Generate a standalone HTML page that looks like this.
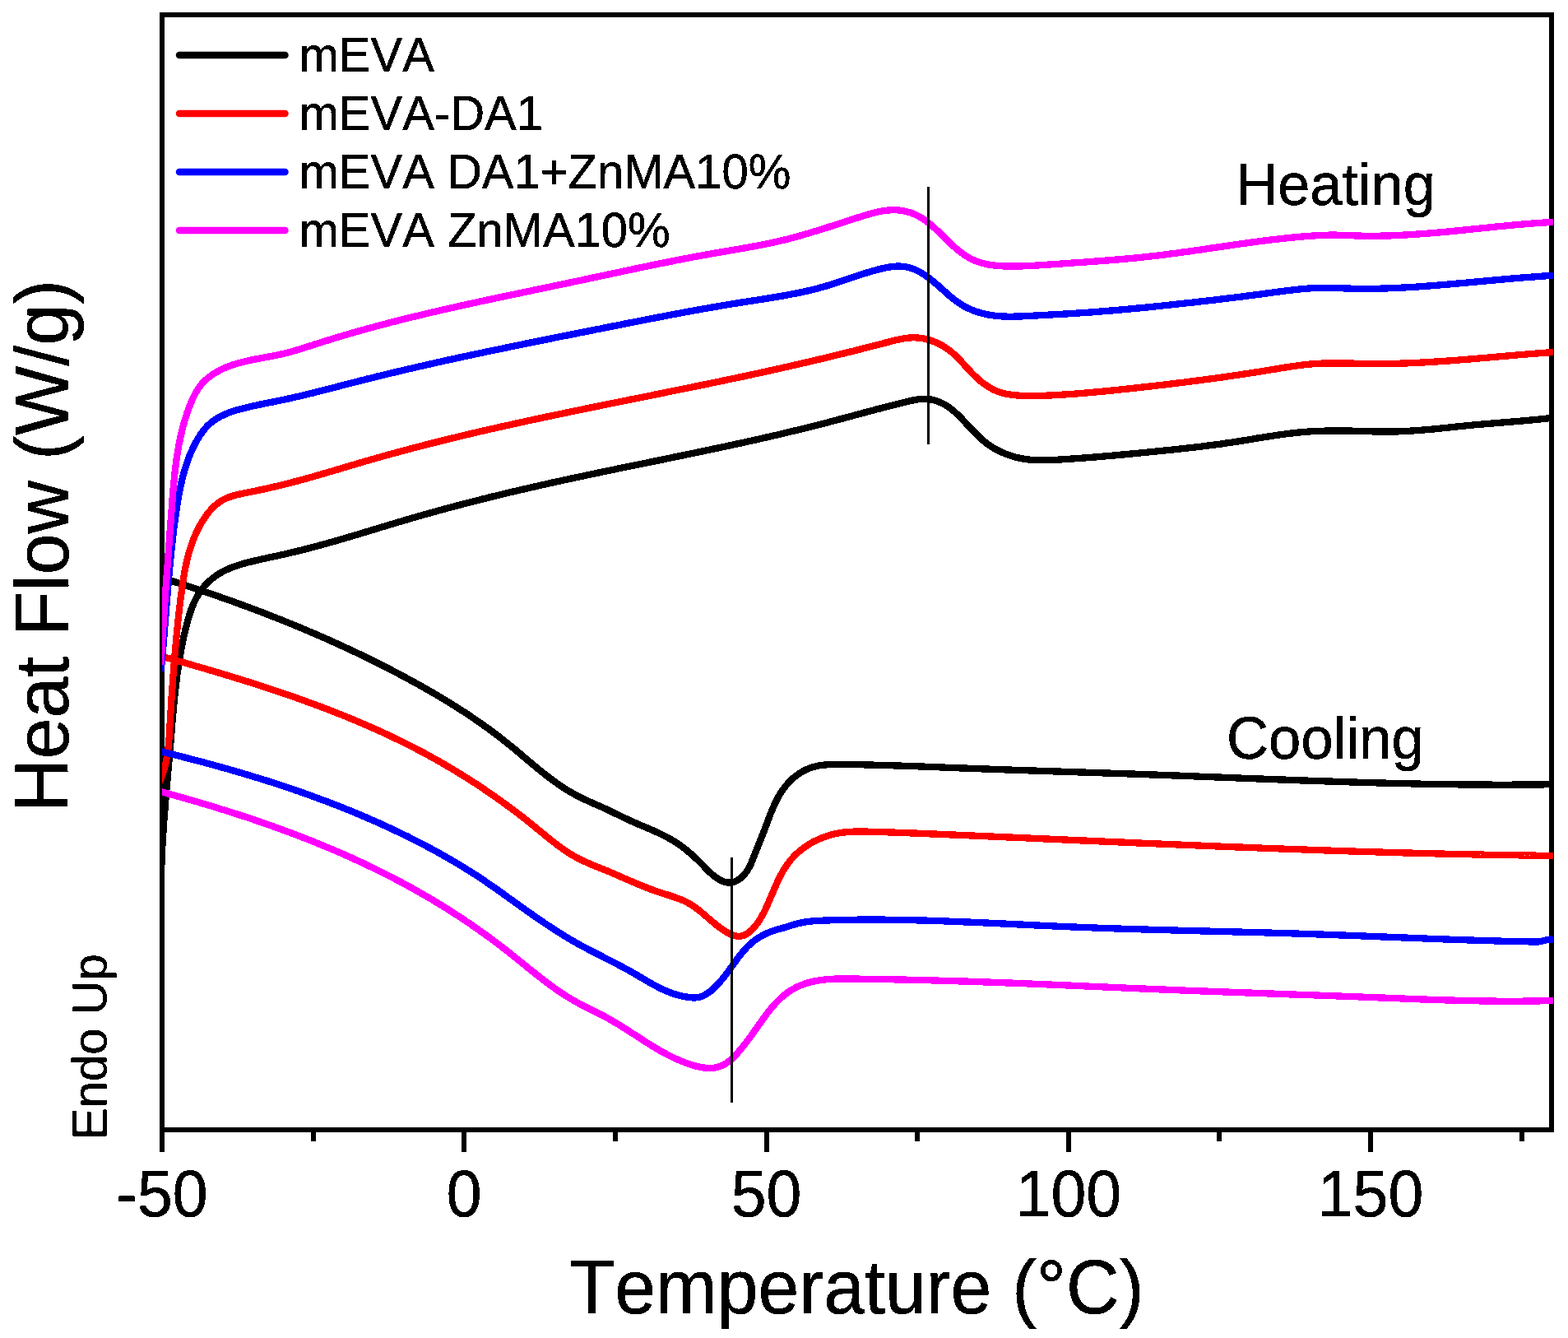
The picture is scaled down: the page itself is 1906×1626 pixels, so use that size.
<!DOCTYPE html>
<html><head><meta charset="utf-8"><title>DSC curves</title>
<style>
html,body{margin:0;padding:0;background:#fff;}
body{width:1906px;height:1626px;overflow:hidden;}
svg{display:block;}
text{font-family:"Liberation Sans",Arial,Helvetica,sans-serif;fill:#000;font-kerning:none;stroke:#000;stroke-width:0.5px;stroke-linejoin:miter;}
</style></head>
<body>
<svg width="1906" height="1626" viewBox="0 0 1906 1626">
<rect x="0" y="0" width="1906" height="1626" fill="#ffffff"/>
<defs><filter id="bin" x="-5%" y="-20%" width="110%" height="140%" color-interpolation-filters="sRGB"><feComponentTransfer><feFuncA type="discrete" tableValues="0 1"/></feComponentTransfer></filter><clipPath id="plot"><rect x="197" y="18" width="1691" height="1355"/></clipPath></defs>
<rect x="197" y="18" width="1689" height="1355" fill="none" stroke="#000" stroke-width="6"/>
<g stroke="#000" stroke-width="6" fill="none" shape-rendering="crispEdges">
<line x1="197.0" y1="1373" x2="197.0" y2="1400"/>
<line x1="564.2" y1="1373" x2="564.2" y2="1400"/>
<line x1="931.5" y1="1373" x2="931.5" y2="1400"/>
<line x1="1298.8" y1="1373" x2="1298.8" y2="1400"/>
<line x1="1666.0" y1="1373" x2="1666.0" y2="1400"/>
<line x1="380.6" y1="1373" x2="380.6" y2="1387"/>
<line x1="747.9" y1="1373" x2="747.9" y2="1387"/>
<line x1="1115.1" y1="1373" x2="1115.1" y2="1387"/>
<line x1="1482.4" y1="1373" x2="1482.4" y2="1387"/>
<line x1="1849.6" y1="1373" x2="1849.6" y2="1387"/>
</g>
<g clip-path="url(#plot)" fill="none" stroke-width="8.3" stroke-linejoin="round" stroke-linecap="butt" shape-rendering="crispEdges">
<path d="M196.1 1062.0 L196.2 1059.0 L196.3 1056.0 L196.3 1053.0 L196.4 1050.0 L196.5 1047.0 L196.7 1044.0 L196.8 1041.1 L196.9 1038.1 L197.1 1035.1 L197.2 1032.1 L197.3 1029.1 L197.5 1026.1 L197.7 1023.1 L197.8 1020.1 L198.0 1017.1 L198.2 1014.1 L198.4 1011.1 L198.6 1008.1 L198.8 1005.1 L199.0 1002.2 L199.2 999.2 L199.4 996.2 L199.7 993.2 L199.9 990.2 L200.1 987.2 L200.4 984.2 L200.6 981.2 L200.8 978.2 L201.1 975.2 L201.3 972.2 L201.6 969.2 L201.8 966.2 L202.1 963.2 L202.3 960.2 L202.6 957.2 L202.9 954.3 L203.1 951.3 L203.4 948.3 L203.7 945.3 L203.9 942.3 L204.2 939.3 L204.4 936.3 L204.7 933.3 L205.0 930.3 L205.2 927.3 L205.5 924.3 L205.7 921.3 L206.0 918.3 L206.3 915.4 L206.5 912.4 L206.8 909.4 L207.0 906.4 L207.3 903.4 L207.5 900.4 L207.8 897.4 L208.0 894.4 L208.3 891.4 L208.5 888.4 L208.7 885.5 L209.0 882.5 L209.2 879.5 L209.5 876.5 L209.8 873.5 L210.0 870.5 L210.3 867.5 L210.6 864.6 L210.8 861.6 L211.1 858.6 L211.4 855.6 L211.7 852.6 L212.0 849.7 L212.3 846.7 L212.6 843.7 L212.9 840.7 L213.2 837.7 L213.6 834.8 L213.9 831.8 L214.3 828.8 L214.7 825.9 L215.0 822.9 L215.4 819.9 L215.8 816.9 L216.3 814.0 L216.7 811.0 L217.1 808.0 L217.6 805.1 L218.1 802.1 L218.6 799.2 L219.1 796.2 L219.6 793.2 L220.1 790.3 L220.7 787.3 L221.2 784.4 L221.8 781.4 L222.4 778.5 L223.0 775.5 L223.7 772.6 L224.3 769.6 L225.0 766.7 L225.7 763.7 L226.5 760.8 L227.2 757.9 L228.0 754.9 L228.8 752.0 L229.7 749.1 L230.6 746.2 L231.5 743.4 L232.5 740.6 L233.6 737.8 L234.7 735.0 L235.9 732.3 L237.2 729.6 L238.5 727.0 L240.0 724.4 L241.5 721.8 L243.1 719.4 L244.8 717.0 L246.6 714.6 L248.5 712.3 L250.5 710.1 L252.6 708.0 L254.8 705.9 L257.1 703.9 L259.5 702.0 L261.9 700.2 L264.5 698.5 L267.0 696.8 L269.7 695.3 L272.3 693.9 L275.0 692.5 L277.8 691.3 L280.5 690.1 L283.3 689.0 L286.1 688.0 L289.0 687.1 L291.8 686.2 L294.7 685.3 L297.6 684.5 L300.5 683.7 L303.4 683.0 L306.3 682.3 L309.2 681.6 L312.1 680.9 L315.0 680.2 L318.0 679.6 L320.9 678.9 L323.8 678.3 L326.7 677.6 L329.7 677.0 L332.6 676.4 L335.5 675.8 L338.5 675.1 L341.4 674.5 L344.3 673.8 L347.2 673.2 L350.2 672.5 L353.1 671.8 L356.0 671.1 L358.9 670.4 L361.8 669.7 L364.7 669.0 L367.6 668.3 L370.5 667.5 L373.4 666.8 L376.3 666.0 L379.2 665.3 L382.1 664.5 L385.0 663.7 L387.9 662.9 L390.8 662.2 L393.7 661.4 L396.6 660.6 L399.5 659.7 L402.4 658.9 L405.3 658.1 L408.2 657.3 L411.0 656.5 L413.9 655.6 L416.8 654.8 L419.7 653.9 L422.6 653.1 L425.4 652.2 L428.3 651.4 L431.2 650.5 L434.1 649.7 L437.0 648.8 L439.8 647.9 L442.7 647.1 L445.6 646.2 L448.5 645.3 L451.3 644.5 L454.2 643.6 L457.1 642.7 L460.0 641.9 L462.8 641.0 L465.7 640.1 L468.6 639.3 L471.4 638.4 L474.3 637.5 L477.2 636.7 L480.1 635.8 L482.9 634.9 L485.8 634.1 L488.7 633.2 L491.6 632.4 L494.5 631.5 L497.3 630.7 L500.2 629.8 L503.1 629.0 L506.0 628.2 L508.9 627.3 L511.7 626.5 L514.6 625.7 L517.5 624.9 L520.4 624.1 L523.3 623.3 L526.2 622.5 L529.1 621.7 L531.9 620.9 L534.8 620.1 L537.7 619.3 L540.6 618.5 L543.5 617.7 L546.4 616.9 L549.3 616.2 L552.2 615.4 L555.1 614.6 L558.0 613.9 L560.9 613.1 L563.8 612.3 L566.7 611.6 L569.6 610.8 L572.5 610.1 L575.4 609.4 L578.3 608.6 L581.2 607.9 L584.1 607.1 L587.0 606.4 L589.9 605.7 L592.8 605.0 L595.7 604.2 L598.6 603.5 L601.5 602.8 L604.5 602.1 L607.4 601.4 L610.3 600.7 L613.2 600.0 L616.1 599.3 L619.0 598.6 L621.9 597.9 L624.9 597.2 L627.8 596.5 L630.7 595.8 L633.6 595.2 L636.5 594.5 L639.4 593.8 L642.4 593.1 L645.3 592.5 L648.2 591.8 L651.1 591.1 L654.1 590.5 L657.0 589.8 L659.9 589.1 L662.8 588.5 L665.8 587.8 L668.7 587.2 L671.6 586.5 L674.6 585.9 L677.5 585.2 L680.4 584.6 L683.3 583.9 L686.3 583.3 L689.2 582.7 L692.1 582.0 L695.1 581.4 L698.0 580.8 L700.9 580.1 L703.9 579.5 L706.8 578.9 L709.8 578.3 L712.7 577.6 L715.6 577.0 L718.6 576.4 L721.5 575.8 L724.5 575.2 L727.4 574.5 L730.3 573.9 L733.3 573.3 L736.2 572.7 L739.2 572.1 L742.1 571.5 L745.0 570.9 L748.0 570.3 L750.9 569.6 L753.9 569.0 L756.8 568.4 L759.8 567.8 L762.7 567.2 L765.6 566.6 L768.6 566.0 L771.5 565.4 L774.5 564.8 L777.4 564.2 L780.4 563.6 L783.3 563.0 L786.2 562.4 L789.2 561.8 L792.1 561.2 L795.1 560.6 L798.0 560.0 L801.0 559.4 L803.9 558.8 L806.9 558.2 L809.8 557.6 L812.7 557.0 L815.7 556.3 L818.6 555.7 L821.6 555.1 L824.5 554.5 L827.5 553.9 L830.4 553.3 L833.3 552.7 L836.3 552.1 L839.2 551.5 L842.2 550.9 L845.1 550.3 L848.1 549.6 L851.0 549.0 L853.9 548.4 L856.9 547.8 L859.8 547.2 L862.7 546.6 L865.7 545.9 L868.6 545.3 L871.6 544.7 L874.5 544.1 L877.4 543.4 L880.4 542.8 L883.3 542.2 L886.2 541.6 L889.2 540.9 L892.1 540.3 L895.0 539.6 L898.0 539.0 L900.9 538.4 L903.8 537.7 L906.8 537.1 L909.7 536.4 L912.6 535.8 L915.5 535.1 L918.5 534.5 L921.4 533.8 L924.3 533.2 L927.2 532.5 L930.2 531.8 L933.1 531.2 L936.0 530.5 L938.9 529.8 L941.8 529.1 L944.8 528.5 L947.7 527.8 L950.6 527.1 L953.5 526.4 L956.4 525.7 L959.3 525.0 L962.2 524.3 L965.2 523.6 L968.1 522.9 L971.0 522.2 L973.9 521.5 L976.8 520.8 L979.7 520.1 L982.6 519.4 L985.5 518.6 L988.4 517.9 L991.3 517.2 L994.2 516.4 L997.1 515.7 L1000.0 515.0 L1002.9 514.2 L1005.8 513.5 L1008.7 512.7 L1011.6 511.9 L1014.4 511.2 L1017.3 510.4 L1020.2 509.6 L1023.1 508.9 L1026.0 508.1 L1028.9 507.3 L1031.8 506.5 L1034.7 505.8 L1037.6 505.0 L1040.4 504.2 L1043.3 503.4 L1046.2 502.7 L1049.1 501.9 L1052.0 501.1 L1054.9 500.3 L1057.8 499.5 L1060.7 498.8 L1063.6 498.0 L1066.5 497.2 L1069.5 496.5 L1072.4 495.7 L1075.3 494.9 L1078.2 494.2 L1081.1 493.4 L1084.1 492.7 L1087.0 491.9 L1089.9 491.2 L1092.9 490.5 L1095.8 489.7 L1098.8 489.0 L1101.7 488.3 L1104.7 487.6 L1107.7 486.9 L1110.6 486.3 L1113.6 485.8 L1116.5 485.3 L1119.5 485.0 L1122.4 484.9 L1125.3 484.9 L1128.2 485.0 L1131.1 485.4 L1134.0 486.0 L1136.8 486.7 L1139.6 487.7 L1142.4 488.8 L1145.1 490.0 L1147.8 491.4 L1150.4 492.9 L1152.9 494.6 L1155.4 496.4 L1157.7 498.2 L1160.1 500.2 L1162.3 502.2 L1164.5 504.3 L1166.7 506.5 L1168.8 508.6 L1170.9 510.8 L1173.0 513.1 L1175.1 515.3 L1177.1 517.5 L1179.2 519.7 L1181.3 522.0 L1183.4 524.1 L1185.5 526.3 L1187.6 528.4 L1189.7 530.5 L1191.9 532.6 L1194.2 534.5 L1196.4 536.5 L1198.8 538.3 L1201.1 540.1 L1203.6 541.8 L1206.1 543.4 L1208.6 545.0 L1211.2 546.4 L1213.9 547.8 L1216.6 549.1 L1219.3 550.3 L1222.1 551.5 L1224.9 552.5 L1227.7 553.5 L1230.6 554.4 L1233.5 555.3 L1236.4 556.0 L1239.3 556.7 L1242.2 557.3 L1245.2 557.8 L1248.2 558.2 L1251.1 558.6 L1254.1 558.8 L1257.1 559.0 L1260.1 559.2 L1263.1 559.3 L1266.1 559.3 L1269.1 559.3 L1272.1 559.2 L1275.1 559.2 L1278.1 559.0 L1281.1 558.9 L1284.2 558.8 L1287.2 558.6 L1290.2 558.4 L1293.2 558.2 L1296.2 558.0 L1299.2 557.8 L1302.2 557.6 L1305.2 557.4 L1308.2 557.2 L1311.2 557.0 L1314.2 556.8 L1317.2 556.5 L1320.2 556.3 L1323.2 556.1 L1326.2 555.8 L1329.2 555.6 L1332.1 555.4 L1335.1 555.1 L1338.1 554.9 L1341.1 554.6 L1344.1 554.3 L1347.1 554.1 L1350.0 553.8 L1353.0 553.6 L1356.0 553.3 L1359.0 553.0 L1362.0 552.7 L1365.0 552.5 L1367.9 552.2 L1370.9 551.9 L1373.9 551.6 L1376.9 551.3 L1379.8 551.0 L1382.8 550.8 L1385.8 550.5 L1388.8 550.2 L1391.8 549.9 L1394.7 549.6 L1397.7 549.3 L1400.7 549.0 L1403.7 548.7 L1406.7 548.4 L1409.6 548.1 L1412.6 547.8 L1415.6 547.5 L1418.6 547.2 L1421.6 546.9 L1424.6 546.6 L1427.5 546.2 L1430.5 545.9 L1433.5 545.6 L1436.5 545.3 L1439.5 545.0 L1442.5 544.6 L1445.4 544.3 L1448.4 544.0 L1451.4 543.6 L1454.4 543.3 L1457.4 542.9 L1460.3 542.6 L1463.3 542.2 L1466.3 541.8 L1469.3 541.4 L1472.3 541.1 L1475.2 540.7 L1478.2 540.3 L1481.2 539.9 L1484.2 539.5 L1487.2 539.1 L1490.1 538.6 L1493.1 538.2 L1496.1 537.8 L1499.0 537.3 L1502.0 536.9 L1505.0 536.4 L1508.0 535.9 L1510.9 535.4 L1513.9 535.0 L1516.9 534.5 L1519.8 534.0 L1522.8 533.5 L1525.8 533.0 L1528.7 532.5 L1531.7 532.0 L1534.7 531.6 L1537.6 531.1 L1540.6 530.6 L1543.6 530.2 L1546.5 529.7 L1549.5 529.3 L1552.5 528.8 L1555.4 528.4 L1558.4 528.0 L1561.4 527.6 L1564.3 527.2 L1567.3 526.8 L1570.3 526.5 L1573.3 526.1 L1576.2 525.8 L1579.2 525.5 L1582.2 525.2 L1585.2 525.0 L1588.2 524.7 L1591.2 524.5 L1594.1 524.3 L1597.1 524.2 L1600.1 524.0 L1603.1 523.9 L1606.1 523.8 L1609.1 523.7 L1612.1 523.6 L1615.1 523.5 L1618.1 523.5 L1621.1 523.5 L1624.1 523.5 L1627.1 523.5 L1630.1 523.5 L1633.1 523.5 L1636.1 523.5 L1639.1 523.6 L1642.1 523.6 L1645.1 523.7 L1648.1 523.8 L1651.1 523.8 L1654.1 523.9 L1657.1 524.0 L1660.1 524.1 L1663.1 524.2 L1666.1 524.3 L1669.1 524.4 L1672.1 524.4 L1675.1 524.5 L1678.1 524.5 L1681.1 524.6 L1684.0 524.6 L1687.0 524.6 L1690.0 524.6 L1693.0 524.5 L1696.0 524.5 L1699.0 524.4 L1702.0 524.3 L1705.0 524.2 L1708.0 524.0 L1711.0 523.9 L1714.0 523.7 L1717.0 523.5 L1720.0 523.3 L1723.0 523.1 L1726.0 522.9 L1729.0 522.6 L1731.9 522.4 L1734.9 522.1 L1737.9 521.8 L1740.9 521.6 L1743.9 521.3 L1746.9 521.0 L1749.9 520.7 L1752.9 520.4 L1755.9 520.1 L1758.9 519.8 L1761.9 519.5 L1764.8 519.2 L1767.8 518.8 L1770.8 518.5 L1773.8 518.2 L1776.8 517.9 L1779.8 517.6 L1782.8 517.3 L1785.8 517.0 L1788.7 516.7 L1791.7 516.4 L1794.7 516.2 L1797.7 515.9 L1800.7 515.6 L1803.7 515.4 L1806.7 515.1 L1809.7 514.9 L1812.6 514.6 L1815.6 514.4 L1818.6 514.1 L1821.6 513.9 L1824.6 513.6 L1827.6 513.4 L1830.5 513.1 L1833.5 512.9 L1836.5 512.6 L1839.5 512.4 L1842.5 512.1 L1845.5 511.9 L1848.5 511.6 L1851.4 511.4 L1854.4 511.1 L1857.4 510.8 L1860.4 510.5 L1863.4 510.3 L1866.4 510.0 L1869.4 509.7 L1872.3 509.4 L1875.3 509.1 L1878.3 508.7 L1881.3 508.4 L1884.3 508.1 L1887.3 507.7 L1890.3 507.3 L1893.3 507.0 L1895.0 506.7" stroke="#000000"/>
<path d="M190.1 700.1 L193.0 701.0 L195.8 701.9 L198.7 702.8 L201.5 703.7 L204.4 704.6 L207.2 705.5 L210.1 706.4 L212.9 707.3 L215.8 708.2 L218.6 709.1 L221.5 710.0 L224.3 711.0 L227.2 711.9 L230.0 712.8 L232.9 713.8 L235.7 714.7 L238.6 715.7 L241.4 716.6 L244.2 717.6 L247.1 718.5 L249.9 719.5 L252.7 720.4 L255.6 721.4 L258.4 722.4 L261.3 723.4 L264.1 724.3 L266.9 725.3 L269.7 726.3 L272.6 727.3 L275.4 728.3 L278.2 729.3 L281.1 730.3 L283.9 731.3 L286.7 732.4 L289.5 733.4 L292.3 734.4 L295.2 735.4 L298.0 736.5 L300.8 737.5 L303.6 738.6 L306.4 739.6 L309.2 740.7 L312.1 741.7 L314.9 742.8 L317.7 743.9 L320.5 744.9 L323.3 746.0 L326.1 747.1 L328.9 748.2 L331.7 749.3 L334.5 750.4 L337.3 751.5 L340.1 752.6 L342.8 753.7 L345.6 754.8 L348.4 756.0 L351.2 757.1 L354.0 758.2 L356.8 759.4 L359.5 760.5 L362.3 761.6 L365.1 762.8 L367.9 764.0 L370.6 765.1 L373.4 766.3 L376.2 767.5 L378.9 768.6 L381.7 769.8 L384.5 771.0 L387.2 772.2 L390.0 773.4 L392.7 774.6 L395.5 775.8 L398.2 777.0 L401.0 778.3 L403.7 779.5 L406.4 780.7 L409.2 782.0 L411.9 783.2 L414.6 784.5 L417.4 785.7 L420.1 787.0 L422.8 788.2 L425.5 789.5 L428.2 790.8 L431.0 792.1 L433.7 793.3 L436.4 794.6 L439.1 795.9 L441.8 797.2 L444.5 798.5 L447.2 799.9 L449.9 801.2 L452.6 802.5 L455.3 803.8 L457.9 805.2 L460.6 806.5 L463.3 807.9 L466.0 809.2 L468.6 810.6 L471.3 812.0 L474.0 813.3 L476.6 814.7 L479.3 816.1 L481.9 817.5 L484.6 818.9 L487.2 820.3 L489.9 821.7 L492.5 823.1 L495.2 824.5 L497.8 826.0 L500.4 827.4 L503.1 828.8 L505.7 830.3 L508.3 831.7 L510.9 833.2 L513.5 834.7 L516.1 836.1 L518.7 837.6 L521.3 839.1 L523.9 840.6 L526.5 842.1 L529.1 843.6 L531.7 845.1 L534.3 846.7 L536.8 848.2 L539.4 849.7 L542.0 851.3 L544.5 852.8 L547.1 854.4 L549.6 856.0 L552.1 857.6 L554.7 859.2 L557.2 860.8 L559.7 862.4 L562.2 864.0 L564.7 865.6 L567.2 867.3 L569.7 868.9 L572.2 870.6 L574.7 872.3 L577.2 874.0 L579.6 875.6 L582.1 877.4 L584.6 879.1 L587.0 880.8 L589.4 882.5 L591.9 884.3 L594.3 886.0 L596.7 887.8 L599.1 889.6 L601.5 891.4 L603.9 893.2 L606.3 895.0 L608.7 896.8 L611.0 898.7 L613.4 900.5 L615.7 902.4 L618.1 904.3 L620.4 906.2 L622.7 908.1 L625.1 910.0 L627.4 911.9 L629.7 913.9 L632.0 915.8 L634.3 917.8 L636.6 919.7 L638.9 921.6 L641.2 923.6 L643.5 925.5 L645.8 927.5 L648.1 929.4 L650.4 931.3 L652.7 933.2 L655.1 935.1 L657.4 937.0 L659.7 938.9 L662.1 940.8 L664.5 942.6 L666.8 944.4 L669.2 946.2 L671.6 948.0 L674.0 949.8 L676.5 951.5 L678.9 953.3 L681.4 954.9 L683.9 956.6 L686.4 958.2 L688.9 959.8 L691.5 961.4 L694.1 962.9 L696.7 964.4 L699.3 965.8 L701.9 967.3 L704.6 968.6 L707.3 970.0 L710.0 971.3 L712.8 972.5 L715.5 973.8 L718.3 975.0 L721.1 976.3 L723.8 977.5 L726.6 978.7 L729.4 979.9 L732.1 981.1 L734.8 982.4 L737.6 983.6 L740.3 984.9 L743.0 986.2 L745.7 987.5 L748.3 988.8 L751.0 990.1 L753.7 991.4 L756.4 992.7 L759.1 994.0 L761.8 995.2 L764.5 996.5 L767.2 997.8 L769.9 999.0 L772.6 1000.2 L775.4 1001.4 L778.2 1002.6 L780.9 1003.8 L783.7 1004.9 L786.5 1006.1 L789.3 1007.3 L792.0 1008.5 L794.8 1009.7 L797.6 1011.0 L800.3 1012.2 L803.0 1013.5 L805.7 1014.8 L808.4 1016.1 L811.1 1017.5 L813.7 1019.0 L816.3 1020.4 L818.8 1022.0 L821.4 1023.6 L823.8 1025.2 L826.3 1026.9 L828.7 1028.6 L831.1 1030.4 L833.4 1032.3 L835.8 1034.2 L838.0 1036.1 L840.3 1038.0 L842.6 1040.0 L844.8 1042.1 L847.0 1044.1 L849.1 1046.2 L851.3 1048.4 L853.4 1050.5 L855.6 1052.7 L857.7 1054.9 L859.8 1057.0 L862.0 1059.2 L864.2 1061.3 L866.5 1063.3 L868.9 1065.2 L871.4 1067.0 L874.1 1068.7 L876.8 1070.2 L879.6 1071.3 L882.4 1072.2 L885.2 1072.6 L888.0 1072.6 L890.7 1072.2 L893.4 1071.3 L896.0 1070.0 L898.5 1068.4 L900.9 1066.6 L903.1 1064.5 L905.2 1062.2 L907.1 1059.7 L908.8 1057.2 L910.4 1054.5 L911.8 1051.8 L913.1 1049.0 L914.3 1046.2 L915.4 1043.4 L916.5 1040.5 L917.6 1037.7 L918.7 1034.9 L919.8 1032.1 L920.9 1029.4 L922.0 1026.6 L923.2 1023.9 L924.3 1021.1 L925.4 1018.4 L926.5 1015.6 L927.6 1012.8 L928.7 1010.0 L929.7 1007.2 L930.8 1004.4 L931.8 1001.6 L932.9 998.8 L933.9 995.9 L935.0 993.1 L936.1 990.3 L937.2 987.5 L938.4 984.7 L939.6 981.9 L940.8 979.2 L942.0 976.5 L943.4 973.8 L944.7 971.1 L946.1 968.5 L947.6 965.9 L949.2 963.4 L950.8 960.9 L952.5 958.5 L954.3 956.1 L956.2 953.8 L958.2 951.5 L960.3 949.4 L962.5 947.2 L964.7 945.2 L967.1 943.3 L969.6 941.4 L972.1 939.7 L974.7 938.1 L977.3 936.6 L980.0 935.3 L982.7 934.1 L985.5 933.0 L988.4 932.1 L991.2 931.4 L994.1 930.7 L997.0 930.2 L1000.0 929.8 L1002.9 929.5 L1005.9 929.3 L1008.9 929.2 L1011.9 929.1 L1014.9 929.0 L1017.9 929.0 L1020.9 929.0 L1023.9 929.0 L1026.9 929.1 L1029.9 929.1 L1033.0 929.1 L1036.0 929.2 L1039.0 929.2 L1042.0 929.2 L1045.0 929.3 L1048.0 929.3 L1051.0 929.4 L1054.0 929.5 L1057.0 929.5 L1060.0 929.6 L1063.0 929.7 L1066.0 929.7 L1069.0 929.8 L1072.0 929.9 L1075.0 930.0 L1078.0 930.1 L1081.0 930.2 L1084.0 930.3 L1087.0 930.4 L1090.0 930.4 L1093.0 930.5 L1096.0 930.7 L1099.0 930.8 L1102.0 930.9 L1105.0 931.0 L1108.0 931.1 L1111.0 931.2 L1114.0 931.3 L1117.0 931.4 L1120.0 931.5 L1123.0 931.6 L1126.0 931.8 L1129.0 931.9 L1132.0 932.0 L1135.0 932.1 L1138.0 932.2 L1141.0 932.3 L1144.0 932.5 L1147.0 932.6 L1150.0 932.7 L1152.9 932.8 L1155.9 932.9 L1158.9 933.1 L1161.9 933.2 L1164.9 933.3 L1167.9 933.4 L1170.9 933.5 L1173.9 933.6 L1176.9 933.7 L1179.9 933.8 L1182.9 934.0 L1185.9 934.1 L1188.9 934.2 L1191.9 934.3 L1194.9 934.4 L1197.9 934.5 L1200.9 934.6 L1203.9 934.7 L1206.9 934.8 L1209.9 934.9 L1212.9 935.0 L1215.9 935.1 L1218.9 935.2 L1221.9 935.4 L1224.9 935.5 L1227.9 935.6 L1230.8 935.7 L1233.8 935.8 L1236.8 935.9 L1239.8 936.0 L1242.8 936.1 L1245.8 936.2 L1248.8 936.3 L1251.8 936.4 L1254.8 936.5 L1257.8 936.6 L1260.8 936.7 L1263.8 936.8 L1266.8 936.9 L1269.8 937.0 L1272.8 937.1 L1275.8 937.2 L1278.8 937.3 L1281.8 937.4 L1284.8 937.5 L1287.8 937.6 L1290.8 937.7 L1293.8 937.8 L1296.8 937.9 L1299.8 938.0 L1302.8 938.1 L1305.8 938.2 L1308.8 938.3 L1311.8 938.4 L1314.8 938.5 L1317.8 938.6 L1320.8 938.7 L1323.8 938.8 L1326.8 938.9 L1329.8 939.0 L1332.8 939.1 L1335.8 939.2 L1338.8 939.3 L1341.8 939.4 L1344.8 939.5 L1347.8 939.6 L1350.8 939.7 L1353.8 939.8 L1356.8 939.9 L1359.8 940.0 L1362.8 940.1 L1365.8 940.2 L1368.8 940.3 L1371.8 940.4 L1374.8 940.5 L1377.8 940.6 L1380.8 940.7 L1383.8 940.9 L1386.8 941.0 L1389.8 941.1 L1392.8 941.2 L1395.8 941.3 L1398.8 941.4 L1401.8 941.5 L1404.8 941.6 L1407.8 941.7 L1410.8 941.8 L1413.8 941.9 L1416.8 942.1 L1419.8 942.2 L1422.8 942.3 L1425.8 942.4 L1428.8 942.5 L1431.8 942.6 L1434.8 942.7 L1437.8 942.9 L1440.8 943.0 L1443.8 943.1 L1446.8 943.2 L1449.8 943.3 L1452.8 943.4 L1455.8 943.5 L1458.8 943.7 L1461.8 943.8 L1464.8 943.9 L1467.8 944.0 L1470.8 944.1 L1473.8 944.2 L1476.8 944.4 L1479.8 944.5 L1482.8 944.6 L1485.8 944.7 L1488.8 944.8 L1491.8 944.9 L1494.8 945.1 L1497.8 945.2 L1500.7 945.3 L1503.7 945.4 L1506.7 945.5 L1509.7 945.7 L1512.7 945.8 L1515.7 945.9 L1518.7 946.0 L1521.7 946.1 L1524.7 946.2 L1527.7 946.4 L1530.7 946.5 L1533.7 946.6 L1536.7 946.7 L1539.7 946.8 L1542.7 946.9 L1545.7 947.0 L1548.7 947.2 L1551.7 947.3 L1554.7 947.4 L1557.7 947.5 L1560.7 947.6 L1563.7 947.7 L1566.7 947.8 L1569.7 947.9 L1572.7 948.1 L1575.7 948.2 L1578.7 948.3 L1581.7 948.4 L1584.7 948.5 L1587.7 948.6 L1590.7 948.7 L1593.7 948.8 L1596.7 948.9 L1599.7 949.0 L1602.7 949.1 L1605.7 949.2 L1608.7 949.3 L1611.7 949.4 L1614.7 949.5 L1617.7 949.6 L1620.7 949.7 L1623.7 949.8 L1626.7 949.9 L1629.7 950.0 L1632.7 950.1 L1635.7 950.2 L1638.7 950.3 L1641.7 950.4 L1644.7 950.5 L1647.7 950.6 L1650.7 950.7 L1653.6 950.8 L1656.6 950.9 L1659.6 951.0 L1662.6 951.0 L1665.6 951.1 L1668.6 951.2 L1671.6 951.3 L1674.6 951.4 L1677.6 951.5 L1680.6 951.5 L1683.6 951.6 L1686.6 951.7 L1689.6 951.8 L1692.6 951.9 L1695.6 951.9 L1698.6 952.0 L1701.6 952.1 L1704.6 952.1 L1707.6 952.2 L1710.6 952.3 L1713.6 952.3 L1716.6 952.4 L1719.6 952.5 L1722.6 952.5 L1725.6 952.6 L1728.6 952.7 L1731.6 952.7 L1734.6 952.8 L1737.6 952.8 L1740.6 952.9 L1743.6 952.9 L1746.6 953.0 L1749.6 953.0 L1752.6 953.1 L1755.6 953.1 L1758.6 953.2 L1761.6 953.2 L1764.6 953.2 L1767.6 953.3 L1770.6 953.3 L1773.6 953.4 L1776.6 953.4 L1779.6 953.4 L1782.6 953.4 L1785.6 953.5 L1788.6 953.5 L1791.6 953.5 L1794.6 953.5 L1797.6 953.6 L1800.6 953.6 L1803.6 953.6 L1806.6 953.6 L1809.6 953.6 L1812.6 953.6 L1815.6 953.7 L1818.6 953.7 L1821.6 953.7 L1824.6 953.7 L1827.6 953.7 L1830.6 953.7 L1833.6 953.7 L1836.6 953.7 L1839.6 953.6 L1842.6 953.6 L1845.6 953.6 L1848.6 953.6 L1851.6 953.6 L1854.6 953.6 L1857.6 953.5 L1860.6 953.5 L1863.6 953.5 L1866.6 953.5 L1869.6 953.4 L1872.6 953.4 L1875.6 953.4 L1878.6 953.3 L1881.6 953.3 L1884.6 953.3 L1887.6 953.2 L1890.6 953.2 L1893.6 953.1 L1895.0 953.1" stroke="#000000"/>
<path d="M192.4 953.1 L193.7 950.4 L195.0 947.7 L196.1 945.0 L197.2 942.2 L198.1 939.4 L199.0 936.6 L199.9 933.8 L200.6 930.9 L201.3 928.0 L201.9 925.1 L202.5 922.2 L203.0 919.3 L203.5 916.3 L203.9 913.4 L204.3 910.4 L204.6 907.4 L204.9 904.4 L205.2 901.4 L205.4 898.4 L205.7 895.4 L205.9 892.4 L206.1 889.4 L206.2 886.3 L206.4 883.3 L206.6 880.3 L206.8 877.3 L207.0 874.3 L207.1 871.2 L207.3 868.2 L207.5 865.2 L207.7 862.2 L207.9 859.2 L208.1 856.2 L208.3 853.2 L208.4 850.2 L208.6 847.2 L208.8 844.2 L209.0 841.2 L209.3 838.3 L209.5 835.3 L209.7 832.3 L209.9 829.3 L210.1 826.3 L210.3 823.3 L210.5 820.3 L210.8 817.4 L211.0 814.4 L211.2 811.4 L211.5 808.4 L211.7 805.4 L211.9 802.5 L212.2 799.5 L212.4 796.5 L212.7 793.5 L213.0 790.6 L213.2 787.6 L213.5 784.6 L213.8 781.6 L214.0 778.6 L214.3 775.7 L214.6 772.7 L214.9 769.7 L215.2 766.7 L215.5 763.8 L215.8 760.8 L216.1 757.8 L216.4 754.8 L216.7 751.8 L217.1 748.8 L217.4 745.9 L217.7 742.9 L218.1 739.9 L218.4 736.9 L218.8 733.9 L219.2 730.9 L219.5 727.9 L219.9 724.9 L220.3 721.9 L220.7 718.9 L221.1 715.9 L221.5 712.9 L221.9 709.9 L222.4 707.0 L222.8 704.0 L223.3 701.0 L223.8 698.0 L224.3 695.0 L224.9 692.1 L225.5 689.1 L226.1 686.2 L226.8 683.3 L227.4 680.3 L228.2 677.4 L228.9 674.5 L229.7 671.7 L230.6 668.8 L231.4 666.0 L232.4 663.1 L233.3 660.3 L234.4 657.5 L235.4 654.7 L236.6 652.0 L237.7 649.3 L239.0 646.5 L240.3 643.9 L241.6 641.2 L243.1 638.6 L244.5 635.9 L246.1 633.4 L247.7 630.8 L249.4 628.3 L251.2 625.8 L253.0 623.4 L254.9 621.1 L256.9 618.8 L259.0 616.7 L261.2 614.6 L263.4 612.7 L265.8 610.9 L268.2 609.2 L270.7 607.7 L273.3 606.3 L276.1 605.1 L278.9 604.0 L281.7 603.1 L284.6 602.2 L287.6 601.4 L290.6 600.7 L293.6 600.0 L296.6 599.4 L299.6 598.8 L302.6 598.2 L305.6 597.6 L308.6 597.0 L311.6 596.4 L314.6 595.7 L317.5 595.1 L320.5 594.5 L323.4 593.8 L326.3 593.2 L329.2 592.5 L332.1 591.8 L335.0 591.2 L337.9 590.5 L340.7 589.8 L343.6 589.1 L346.5 588.4 L349.3 587.6 L352.2 586.9 L355.1 586.2 L357.9 585.4 L360.8 584.7 L363.6 583.9 L366.5 583.2 L369.4 582.4 L372.2 581.6 L375.1 580.8 L378.0 580.0 L380.8 579.2 L383.7 578.4 L386.6 577.5 L389.5 576.7 L392.3 575.9 L395.2 575.0 L398.1 574.2 L401.0 573.3 L403.9 572.5 L406.8 571.6 L409.6 570.8 L412.5 569.9 L415.4 569.1 L418.3 568.2 L421.2 567.3 L424.1 566.5 L427.0 565.6 L429.9 564.8 L432.8 563.9 L435.7 563.1 L438.6 562.2 L441.4 561.4 L444.3 560.5 L447.2 559.7 L450.1 558.8 L453.0 558.0 L455.9 557.2 L458.8 556.4 L461.7 555.5 L464.6 554.7 L467.5 553.9 L470.4 553.1 L473.3 552.3 L476.2 551.5 L479.1 550.7 L482.0 549.9 L484.9 549.1 L487.8 548.3 L490.7 547.6 L493.6 546.8 L496.5 546.0 L499.4 545.3 L502.3 544.5 L505.2 543.7 L508.1 543.0 L511.0 542.2 L513.9 541.5 L516.8 540.7 L519.7 540.0 L522.6 539.2 L525.5 538.5 L528.4 537.8 L531.3 537.0 L534.3 536.3 L537.2 535.6 L540.1 534.9 L543.0 534.1 L545.9 533.4 L548.8 532.7 L551.7 532.0 L554.6 531.3 L557.5 530.6 L560.4 529.9 L563.4 529.2 L566.3 528.5 L569.2 527.8 L572.1 527.1 L575.0 526.4 L577.9 525.8 L580.8 525.1 L583.7 524.4 L586.7 523.7 L589.6 523.1 L592.5 522.4 L595.4 521.7 L598.3 521.1 L601.3 520.4 L604.2 519.7 L607.1 519.1 L610.0 518.4 L612.9 517.8 L615.9 517.1 L618.8 516.5 L621.7 515.8 L624.6 515.2 L627.6 514.5 L630.5 513.9 L633.4 513.2 L636.4 512.6 L639.3 512.0 L642.2 511.3 L645.1 510.7 L648.1 510.1 L651.0 509.4 L653.9 508.8 L656.9 508.2 L659.8 507.5 L662.7 506.9 L665.7 506.3 L668.6 505.7 L671.5 505.1 L674.5 504.4 L677.4 503.8 L680.4 503.2 L683.3 502.6 L686.2 502.0 L689.2 501.4 L692.1 500.8 L695.1 500.1 L698.0 499.5 L700.9 498.9 L703.9 498.3 L706.8 497.7 L709.8 497.1 L712.7 496.5 L715.6 495.9 L718.6 495.3 L721.5 494.7 L724.5 494.1 L727.4 493.5 L730.4 492.9 L733.3 492.3 L736.3 491.7 L739.2 491.1 L742.1 490.5 L745.1 489.9 L748.0 489.3 L751.0 488.7 L753.9 488.1 L756.9 487.5 L759.8 486.9 L762.8 486.3 L765.7 485.7 L768.7 485.1 L771.6 484.6 L774.5 484.0 L777.5 483.4 L780.4 482.8 L783.4 482.2 L786.3 481.6 L789.3 481.0 L792.2 480.4 L795.2 479.8 L798.1 479.2 L801.1 478.6 L804.0 478.0 L806.9 477.4 L809.9 476.8 L812.8 476.2 L815.8 475.6 L818.7 475.0 L821.7 474.4 L824.6 473.8 L827.6 473.2 L830.5 472.6 L833.4 472.0 L836.4 471.4 L839.3 470.8 L842.3 470.2 L845.2 469.6 L848.2 469.0 L851.1 468.4 L854.0 467.8 L857.0 467.2 L859.9 466.6 L862.9 466.0 L865.8 465.4 L868.7 464.8 L871.7 464.2 L874.6 463.6 L877.5 462.9 L880.5 462.3 L883.4 461.7 L886.4 461.1 L889.3 460.5 L892.2 459.9 L895.2 459.2 L898.1 458.6 L901.0 458.0 L903.9 457.4 L906.9 456.7 L909.8 456.1 L912.7 455.5 L915.7 454.8 L918.6 454.2 L921.5 453.6 L924.4 452.9 L927.4 452.3 L930.3 451.6 L933.2 451.0 L936.1 450.4 L939.1 449.7 L942.0 449.1 L944.9 448.4 L947.8 447.8 L950.7 447.1 L953.7 446.4 L956.6 445.8 L959.5 445.1 L962.4 444.5 L965.3 443.8 L968.2 443.1 L971.1 442.5 L974.1 441.8 L977.0 441.1 L979.9 440.4 L982.8 439.8 L985.7 439.1 L988.6 438.4 L991.5 437.7 L994.4 437.0 L997.3 436.3 L1000.3 435.6 L1003.2 434.9 L1006.1 434.2 L1009.0 433.5 L1011.9 432.8 L1014.8 432.1 L1017.7 431.4 L1020.6 430.7 L1023.5 430.0 L1026.5 429.3 L1029.4 428.5 L1032.3 427.8 L1035.2 427.1 L1038.1 426.4 L1041.0 425.6 L1044.0 424.9 L1046.9 424.2 L1049.8 423.4 L1052.7 422.7 L1055.6 421.9 L1058.6 421.2 L1061.5 420.4 L1064.4 419.7 L1067.3 418.9 L1070.3 418.2 L1073.2 417.4 L1076.1 416.6 L1079.1 415.9 L1082.0 415.1 L1084.9 414.3 L1087.9 413.6 L1090.8 412.9 L1093.8 412.3 L1096.7 411.7 L1099.7 411.2 L1102.6 410.8 L1105.6 410.5 L1108.5 410.3 L1111.5 410.3 L1114.4 410.4 L1117.4 410.7 L1120.3 411.0 L1123.2 411.6 L1126.1 412.2 L1129.0 413.0 L1131.9 413.9 L1134.7 414.9 L1137.5 416.1 L1140.2 417.3 L1142.9 418.7 L1145.5 420.1 L1148.1 421.7 L1150.6 423.3 L1153.1 425.1 L1155.5 426.9 L1157.8 428.8 L1160.0 430.8 L1162.2 432.8 L1164.3 434.9 L1166.4 437.1 L1168.5 439.3 L1170.5 441.5 L1172.5 443.7 L1174.6 446.0 L1176.6 448.2 L1178.6 450.4 L1180.7 452.6 L1182.8 454.8 L1185.0 456.9 L1187.2 459.0 L1189.4 461.1 L1191.7 463.0 L1194.1 464.9 L1196.5 466.7 L1199.0 468.5 L1201.5 470.1 L1204.1 471.6 L1206.7 473.0 L1209.4 474.3 L1212.1 475.5 L1214.9 476.5 L1217.7 477.4 L1220.6 478.1 L1223.5 478.8 L1226.5 479.3 L1229.4 479.7 L1232.4 480.1 L1235.4 480.4 L1238.4 480.6 L1241.4 480.8 L1244.4 481.0 L1247.4 481.0 L1250.4 481.1 L1253.4 481.1 L1256.4 481.1 L1259.4 481.0 L1262.4 481.0 L1265.4 480.9 L1268.4 480.8 L1271.4 480.7 L1274.4 480.5 L1277.4 480.4 L1280.4 480.3 L1283.4 480.1 L1286.4 479.9 L1289.4 479.8 L1292.4 479.6 L1295.4 479.4 L1298.4 479.2 L1301.4 479.0 L1304.4 478.8 L1307.4 478.6 L1310.4 478.3 L1313.4 478.1 L1316.4 477.8 L1319.3 477.6 L1322.3 477.3 L1325.3 477.1 L1328.3 476.8 L1331.3 476.5 L1334.3 476.2 L1337.3 476.0 L1340.2 475.7 L1343.2 475.4 L1346.2 475.1 L1349.2 474.8 L1352.2 474.5 L1355.1 474.2 L1358.1 473.9 L1361.1 473.5 L1364.1 473.2 L1367.1 472.9 L1370.0 472.6 L1373.0 472.3 L1376.0 471.9 L1379.0 471.6 L1382.0 471.3 L1385.0 471.0 L1387.9 470.6 L1390.9 470.3 L1393.9 470.0 L1396.9 469.6 L1399.9 469.3 L1402.8 469.0 L1405.8 468.6 L1408.8 468.3 L1411.8 467.9 L1414.8 467.6 L1417.7 467.2 L1420.7 466.9 L1423.7 466.5 L1426.7 466.1 L1429.6 465.8 L1432.6 465.4 L1435.6 465.0 L1438.6 464.7 L1441.6 464.3 L1444.5 463.9 L1447.5 463.5 L1450.5 463.2 L1453.5 462.8 L1456.4 462.4 L1459.4 462.0 L1462.4 461.6 L1465.4 461.2 L1468.3 460.8 L1471.3 460.4 L1474.3 460.0 L1477.3 459.6 L1480.2 459.2 L1483.2 458.8 L1486.2 458.4 L1489.2 457.9 L1492.1 457.5 L1495.1 457.1 L1498.1 456.7 L1501.0 456.2 L1504.0 455.8 L1507.0 455.3 L1509.9 454.9 L1512.9 454.5 L1515.9 454.0 L1518.9 453.5 L1521.8 453.1 L1524.8 452.6 L1527.8 452.2 L1530.7 451.7 L1533.7 451.2 L1536.6 450.7 L1539.6 450.2 L1542.6 449.8 L1545.5 449.3 L1548.5 448.8 L1551.5 448.3 L1554.4 447.8 L1557.4 447.3 L1560.3 446.8 L1563.3 446.4 L1566.3 445.9 L1569.2 445.5 L1572.2 445.0 L1575.2 444.6 L1578.1 444.2 L1581.1 443.8 L1584.1 443.5 L1587.1 443.1 L1590.0 442.8 L1593.0 442.5 L1596.0 442.3 L1599.0 442.0 L1602.0 441.8 L1605.0 441.7 L1608.0 441.6 L1610.9 441.5 L1613.9 441.4 L1616.9 441.4 L1619.9 441.4 L1622.9 441.4 L1626.0 441.4 L1629.0 441.4 L1632.0 441.4 L1635.0 441.5 L1638.0 441.5 L1641.0 441.6 L1644.0 441.6 L1647.0 441.7 L1650.0 441.7 L1653.0 441.8 L1656.0 441.8 L1659.0 441.8 L1662.0 441.9 L1665.0 441.9 L1668.0 442.0 L1671.0 442.0 L1674.0 442.0 L1676.9 442.0 L1679.9 442.0 L1682.9 442.0 L1685.9 441.9 L1688.9 441.9 L1691.9 441.9 L1694.9 441.8 L1697.9 441.7 L1700.9 441.7 L1703.9 441.6 L1706.9 441.5 L1709.9 441.4 L1712.9 441.3 L1715.9 441.1 L1718.9 441.0 L1721.9 440.9 L1724.9 440.7 L1727.9 440.6 L1730.9 440.4 L1733.9 440.3 L1736.9 440.1 L1739.9 439.9 L1742.9 439.7 L1745.9 439.5 L1748.9 439.3 L1751.8 439.1 L1754.8 438.9 L1757.8 438.7 L1760.8 438.5 L1763.8 438.3 L1766.8 438.0 L1769.8 437.8 L1772.8 437.6 L1775.8 437.3 L1778.8 437.1 L1781.8 436.9 L1784.8 436.6 L1787.8 436.4 L1790.8 436.1 L1793.7 435.9 L1796.7 435.6 L1799.7 435.3 L1802.7 435.1 L1805.7 434.8 L1808.7 434.6 L1811.7 434.3 L1814.7 434.0 L1817.7 433.8 L1820.7 433.5 L1823.7 433.2 L1826.6 433.0 L1829.6 432.7 L1832.6 432.5 L1835.6 432.2 L1838.6 431.9 L1841.6 431.7 L1844.6 431.4 L1847.6 431.2 L1850.6 430.9 L1853.6 430.7 L1856.5 430.4 L1859.5 430.2 L1862.5 429.9 L1865.5 429.7 L1868.5 429.5 L1871.5 429.2 L1874.5 429.0 L1877.5 428.8 L1880.4 428.6 L1883.4 428.4 L1886.4 428.2 L1889.4 428.0 L1892.4 427.8 L1895.0 427.6" stroke="#ff0000"/>
<path d="M190.1 795.8 L193.0 796.6 L195.8 797.4 L198.7 798.2 L201.6 799.0 L204.4 799.8 L207.3 800.6 L210.2 801.4 L213.1 802.3 L215.9 803.1 L218.8 803.9 L221.7 804.7 L224.6 805.5 L227.4 806.4 L230.3 807.2 L233.2 808.0 L236.1 808.8 L238.9 809.7 L241.8 810.5 L244.7 811.3 L247.6 812.2 L250.4 813.0 L253.3 813.9 L256.2 814.7 L259.1 815.6 L262.0 816.4 L264.8 817.3 L267.7 818.2 L270.6 819.0 L273.5 819.9 L276.3 820.8 L279.2 821.6 L282.1 822.5 L284.9 823.4 L287.8 824.3 L290.7 825.2 L293.6 826.0 L296.4 826.9 L299.3 827.8 L302.2 828.7 L305.0 829.6 L307.9 830.6 L310.8 831.5 L313.6 832.4 L316.5 833.3 L319.3 834.2 L322.2 835.2 L325.1 836.1 L327.9 837.0 L330.8 838.0 L333.6 838.9 L336.5 839.9 L339.3 840.9 L342.2 841.8 L345.0 842.8 L347.9 843.8 L350.7 844.7 L353.6 845.7 L356.4 846.7 L359.2 847.7 L362.1 848.7 L364.9 849.7 L367.7 850.7 L370.6 851.7 L373.4 852.8 L376.2 853.8 L379.0 854.8 L381.9 855.9 L384.7 856.9 L387.5 858.0 L390.3 859.0 L393.1 860.1 L395.9 861.1 L398.7 862.2 L401.5 863.3 L404.3 864.4 L407.1 865.5 L409.9 866.6 L412.7 867.7 L415.5 868.8 L418.3 869.9 L421.1 871.1 L423.8 872.2 L426.6 873.3 L429.4 874.5 L432.1 875.6 L434.9 876.8 L437.7 878.0 L440.4 879.2 L443.2 880.3 L445.9 881.5 L448.7 882.7 L451.4 884.0 L454.2 885.2 L456.9 886.4 L459.6 887.6 L462.4 888.9 L465.1 890.1 L467.8 891.4 L470.5 892.6 L473.2 893.9 L475.9 895.2 L478.6 896.5 L481.3 897.8 L484.0 899.1 L486.7 900.4 L489.4 901.7 L492.1 903.0 L494.8 904.4 L497.5 905.7 L500.1 907.1 L502.8 908.5 L505.4 909.8 L508.1 911.2 L510.8 912.6 L513.4 914.0 L516.0 915.4 L518.7 916.8 L521.3 918.3 L523.9 919.7 L526.6 921.2 L529.2 922.6 L531.8 924.1 L534.4 925.6 L537.0 927.1 L539.6 928.6 L542.2 930.1 L544.7 931.6 L547.3 933.1 L549.9 934.6 L552.5 936.2 L555.0 937.7 L557.6 939.3 L560.1 940.9 L562.7 942.4 L565.2 944.0 L567.8 945.6 L570.3 947.2 L572.8 948.8 L575.3 950.5 L577.9 952.1 L580.4 953.7 L582.9 955.4 L585.4 957.0 L587.9 958.7 L590.3 960.4 L592.8 962.1 L595.3 963.8 L597.8 965.5 L600.2 967.2 L602.7 968.9 L605.1 970.6 L607.6 972.4 L610.0 974.1 L612.5 975.9 L614.9 977.7 L617.3 979.4 L619.7 981.2 L622.1 983.0 L624.5 984.8 L626.9 986.6 L629.3 988.4 L631.7 990.3 L634.1 992.1 L636.5 993.9 L638.8 995.8 L641.2 997.7 L643.5 999.5 L645.9 1001.4 L648.2 1003.3 L650.6 1005.2 L652.9 1007.1 L655.2 1009.0 L657.5 1010.9 L659.9 1012.8 L662.2 1014.7 L664.5 1016.6 L666.8 1018.5 L669.2 1020.4 L671.5 1022.3 L673.9 1024.1 L676.3 1026.0 L678.6 1027.8 L681.1 1029.5 L683.5 1031.3 L685.9 1033.0 L688.4 1034.7 L690.9 1036.3 L693.4 1037.9 L696.0 1039.4 L698.6 1040.9 L701.2 1042.3 L703.8 1043.7 L706.5 1045.1 L709.2 1046.4 L712.0 1047.6 L714.7 1048.8 L717.5 1050.0 L720.3 1051.2 L723.1 1052.3 L725.9 1053.4 L728.7 1054.6 L731.6 1055.7 L734.4 1056.8 L737.1 1058.0 L739.9 1059.1 L742.7 1060.3 L745.5 1061.5 L748.2 1062.7 L751.0 1063.9 L753.7 1065.1 L756.5 1066.3 L759.2 1067.5 L761.9 1068.6 L764.7 1069.8 L767.4 1071.0 L770.2 1072.2 L772.9 1073.4 L775.7 1074.5 L778.4 1075.7 L781.2 1076.8 L784.0 1077.9 L786.7 1079.0 L789.5 1080.1 L792.3 1081.1 L795.2 1082.2 L798.0 1083.2 L800.8 1084.2 L803.7 1085.1 L806.6 1086.0 L809.5 1086.9 L812.4 1087.8 L815.3 1088.8 L818.1 1089.7 L821.0 1090.7 L823.8 1091.7 L826.6 1092.8 L829.4 1093.9 L832.1 1095.1 L834.8 1096.4 L837.4 1097.9 L840.0 1099.4 L842.5 1101.0 L844.9 1102.7 L847.4 1104.5 L849.7 1106.3 L852.1 1108.2 L854.4 1110.2 L856.7 1112.1 L859.0 1114.1 L861.3 1116.1 L863.6 1118.1 L866.0 1120.1 L868.3 1122.0 L870.6 1124.0 L873.0 1125.8 L875.4 1127.6 L877.9 1129.4 L880.3 1131.0 L882.9 1132.6 L885.5 1134.0 L888.2 1135.3 L890.9 1136.5 L893.7 1137.3 L896.4 1137.8 L899.2 1137.8 L902.0 1137.3 L904.8 1136.4 L907.4 1135.1 L909.9 1133.4 L912.3 1131.5 L914.6 1129.3 L916.8 1127.0 L918.8 1124.5 L920.6 1122.0 L922.4 1119.4 L924.0 1116.8 L925.6 1114.3 L927.0 1111.7 L928.4 1109.1 L929.7 1106.4 L931.0 1103.8 L932.2 1101.1 L933.4 1098.4 L934.6 1095.6 L935.8 1092.9 L937.0 1090.1 L938.2 1087.3 L939.4 1084.6 L940.6 1081.8 L941.8 1079.0 L943.0 1076.2 L944.3 1073.5 L945.5 1070.7 L946.9 1068.0 L948.2 1065.3 L949.6 1062.6 L951.0 1060.0 L952.5 1057.4 L954.1 1054.9 L955.7 1052.4 L957.4 1050.0 L959.2 1047.6 L961.0 1045.2 L963.0 1043.0 L965.0 1040.8 L967.1 1038.7 L969.2 1036.7 L971.5 1034.7 L973.8 1032.8 L976.2 1030.9 L978.6 1029.2 L981.1 1027.5 L983.6 1025.9 L986.3 1024.4 L988.9 1022.9 L991.6 1021.6 L994.4 1020.3 L997.1 1019.0 L999.9 1017.9 L1002.8 1016.9 L1005.7 1015.9 L1008.6 1015.0 L1011.5 1014.2 L1014.4 1013.5 L1017.3 1012.8 L1020.3 1012.3 L1023.3 1011.8 L1026.2 1011.5 L1029.2 1011.2 L1032.2 1010.9 L1035.2 1010.8 L1038.1 1010.6 L1041.1 1010.6 L1044.1 1010.5 L1047.1 1010.6 L1050.1 1010.6 L1053.1 1010.6 L1056.1 1010.7 L1059.1 1010.8 L1062.0 1010.8 L1065.0 1010.9 L1068.0 1011.0 L1071.0 1011.1 L1074.0 1011.2 L1077.0 1011.3 L1080.0 1011.4 L1083.0 1011.5 L1086.0 1011.6 L1089.0 1011.7 L1092.0 1011.8 L1095.0 1011.9 L1098.0 1012.0 L1101.0 1012.1 L1104.0 1012.2 L1107.0 1012.4 L1110.0 1012.5 L1113.0 1012.6 L1116.0 1012.7 L1119.0 1012.9 L1122.0 1013.0 L1125.0 1013.1 L1128.0 1013.2 L1131.0 1013.4 L1134.0 1013.5 L1137.0 1013.6 L1140.0 1013.7 L1143.0 1013.9 L1146.0 1014.0 L1149.0 1014.1 L1152.0 1014.2 L1155.0 1014.4 L1158.0 1014.5 L1161.0 1014.6 L1164.0 1014.8 L1167.0 1014.9 L1170.0 1015.0 L1173.0 1015.1 L1176.0 1015.3 L1179.0 1015.4 L1182.0 1015.5 L1185.0 1015.7 L1188.0 1015.8 L1191.0 1015.9 L1194.0 1016.1 L1197.0 1016.2 L1200.0 1016.3 L1203.0 1016.5 L1206.0 1016.6 L1209.0 1016.7 L1212.0 1016.8 L1215.0 1017.0 L1218.0 1017.1 L1221.0 1017.2 L1224.0 1017.4 L1227.0 1017.5 L1230.0 1017.6 L1233.0 1017.8 L1236.0 1017.9 L1239.0 1018.0 L1242.0 1018.2 L1245.0 1018.3 L1248.0 1018.4 L1250.9 1018.6 L1253.9 1018.7 L1256.9 1018.8 L1259.9 1019.0 L1262.9 1019.1 L1265.9 1019.2 L1268.9 1019.4 L1271.9 1019.5 L1274.9 1019.6 L1277.9 1019.8 L1280.9 1019.9 L1283.9 1020.0 L1286.9 1020.2 L1289.9 1020.3 L1292.9 1020.4 L1295.9 1020.6 L1298.9 1020.7 L1301.9 1020.8 L1304.9 1021.0 L1307.9 1021.1 L1310.9 1021.2 L1313.9 1021.4 L1316.9 1021.5 L1319.9 1021.6 L1322.9 1021.8 L1325.9 1021.9 L1328.8 1022.0 L1331.8 1022.2 L1334.8 1022.3 L1337.8 1022.4 L1340.8 1022.6 L1343.8 1022.7 L1346.8 1022.8 L1349.8 1023.0 L1352.8 1023.1 L1355.8 1023.2 L1358.8 1023.3 L1361.8 1023.5 L1364.8 1023.6 L1367.8 1023.7 L1370.8 1023.9 L1373.8 1024.0 L1376.8 1024.1 L1379.8 1024.3 L1382.8 1024.4 L1385.8 1024.5 L1388.8 1024.7 L1391.8 1024.8 L1394.8 1024.9 L1397.8 1025.0 L1400.8 1025.2 L1403.8 1025.3 L1406.7 1025.4 L1409.7 1025.6 L1412.7 1025.7 L1415.7 1025.8 L1418.7 1025.9 L1421.7 1026.1 L1424.7 1026.2 L1427.7 1026.3 L1430.7 1026.4 L1433.7 1026.6 L1436.7 1026.7 L1439.7 1026.8 L1442.7 1026.9 L1445.7 1027.1 L1448.7 1027.2 L1451.7 1027.3 L1454.7 1027.4 L1457.7 1027.6 L1460.7 1027.7 L1463.7 1027.8 L1466.7 1027.9 L1469.7 1028.1 L1472.7 1028.2 L1475.7 1028.3 L1478.7 1028.4 L1481.7 1028.5 L1484.7 1028.7 L1487.7 1028.8 L1490.7 1028.9 L1493.7 1029.0 L1496.7 1029.2 L1499.7 1029.3 L1502.7 1029.4 L1505.7 1029.5 L1508.7 1029.6 L1511.7 1029.7 L1514.7 1029.9 L1517.7 1030.0 L1520.7 1030.1 L1523.7 1030.2 L1526.7 1030.3 L1529.6 1030.4 L1532.6 1030.6 L1535.6 1030.7 L1538.6 1030.8 L1541.6 1030.9 L1544.6 1031.0 L1547.6 1031.1 L1550.6 1031.2 L1553.6 1031.3 L1556.6 1031.5 L1559.6 1031.6 L1562.6 1031.7 L1565.6 1031.8 L1568.6 1031.9 L1571.6 1032.0 L1574.6 1032.1 L1577.6 1032.2 L1580.6 1032.3 L1583.6 1032.4 L1586.6 1032.5 L1589.6 1032.7 L1592.6 1032.8 L1595.6 1032.9 L1598.6 1033.0 L1601.6 1033.1 L1604.6 1033.2 L1607.6 1033.3 L1610.6 1033.4 L1613.6 1033.5 L1616.6 1033.6 L1619.6 1033.7 L1622.6 1033.8 L1625.6 1033.9 L1628.6 1034.0 L1631.6 1034.1 L1634.6 1034.2 L1637.6 1034.3 L1640.6 1034.4 L1643.6 1034.5 L1646.6 1034.6 L1649.6 1034.7 L1652.6 1034.8 L1655.6 1034.9 L1658.6 1034.9 L1661.6 1035.0 L1664.6 1035.1 L1667.6 1035.2 L1670.6 1035.3 L1673.6 1035.4 L1676.6 1035.5 L1679.6 1035.6 L1682.6 1035.7 L1685.6 1035.8 L1688.6 1035.8 L1691.6 1035.9 L1694.6 1036.0 L1697.6 1036.1 L1700.6 1036.2 L1703.6 1036.3 L1706.6 1036.4 L1709.6 1036.4 L1712.6 1036.5 L1715.6 1036.6 L1718.6 1036.7 L1721.6 1036.8 L1724.6 1036.8 L1727.6 1036.9 L1730.6 1037.0 L1733.6 1037.1 L1736.6 1037.1 L1739.6 1037.2 L1742.6 1037.3 L1745.6 1037.4 L1748.6 1037.4 L1751.6 1037.5 L1754.6 1037.6 L1757.6 1037.7 L1760.6 1037.7 L1763.6 1037.8 L1766.6 1037.9 L1769.6 1037.9 L1772.6 1038.0 L1775.6 1038.1 L1778.6 1038.1 L1781.6 1038.2 L1784.6 1038.2 L1787.6 1038.3 L1790.6 1038.4 L1793.6 1038.4 L1796.6 1038.5 L1799.5 1038.6 L1802.5 1038.6 L1805.5 1038.7 L1808.5 1038.7 L1811.5 1038.8 L1814.5 1038.8 L1817.5 1038.9 L1820.5 1038.9 L1823.5 1039.0 L1826.5 1039.1 L1829.5 1039.1 L1832.5 1039.2 L1835.5 1039.2 L1838.5 1039.2 L1841.5 1039.3 L1844.5 1039.3 L1847.5 1039.4 L1850.5 1039.4 L1853.5 1039.5 L1856.5 1039.5 L1859.5 1039.6 L1862.5 1039.6 L1865.5 1039.6 L1868.5 1039.7 L1871.5 1039.7 L1874.5 1039.8 L1877.5 1039.8 L1880.5 1039.8 L1883.5 1039.9 L1886.5 1039.9 L1889.5 1039.9 L1892.5 1040.0 L1895.0 1040.0" stroke="#ff0000"/>
<path d="M195.6 816.0 L195.9 813.0 L196.2 810.0 L196.4 807.0 L196.7 804.0 L197.0 801.0 L197.3 798.1 L197.5 795.1 L197.8 792.1 L198.1 789.1 L198.3 786.1 L198.6 783.1 L198.8 780.1 L199.1 777.1 L199.3 774.1 L199.6 771.1 L199.8 768.1 L200.1 765.1 L200.3 762.2 L200.5 759.2 L200.8 756.2 L201.0 753.2 L201.3 750.2 L201.5 747.2 L201.7 744.2 L202.0 741.2 L202.2 738.2 L202.4 735.2 L202.7 732.2 L202.9 729.3 L203.2 726.3 L203.4 723.3 L203.6 720.3 L203.9 717.3 L204.1 714.3 L204.4 711.3 L204.6 708.3 L204.9 705.4 L205.2 702.4 L205.4 699.4 L205.7 696.4 L206.0 693.4 L206.2 690.4 L206.5 687.4 L206.8 684.5 L207.1 681.5 L207.4 678.5 L207.7 675.5 L208.0 672.5 L208.3 669.5 L208.6 666.6 L208.9 663.6 L209.2 660.6 L209.6 657.6 L209.9 654.6 L210.3 651.7 L210.6 648.7 L211.0 645.7 L211.3 642.7 L211.7 639.8 L212.1 636.8 L212.5 633.8 L212.9 630.8 L213.3 627.8 L213.7 624.9 L214.2 621.9 L214.6 618.9 L215.0 616.0 L215.5 613.0 L216.0 610.0 L216.5 607.1 L217.0 604.1 L217.5 601.1 L218.1 598.2 L218.6 595.2 L219.2 592.3 L219.9 589.4 L220.5 586.4 L221.2 583.5 L221.9 580.6 L222.7 577.7 L223.4 574.8 L224.3 571.9 L225.1 569.1 L226.0 566.2 L227.0 563.4 L227.9 560.5 L229.0 557.7 L230.0 554.9 L231.2 552.1 L232.3 549.4 L233.6 546.6 L234.8 543.9 L236.2 541.2 L237.6 538.5 L239.0 535.8 L240.5 533.1 L242.1 530.6 L243.8 528.0 L245.5 525.6 L247.3 523.2 L249.2 520.9 L251.2 518.7 L253.3 516.5 L255.4 514.6 L257.7 512.7 L260.1 510.9 L262.5 509.3 L265.0 507.8 L267.6 506.3 L270.3 505.0 L273.0 503.7 L275.8 502.5 L278.6 501.4 L281.5 500.4 L284.4 499.4 L287.3 498.5 L290.2 497.7 L293.2 496.9 L296.2 496.1 L299.1 495.4 L302.1 494.7 L305.1 494.0 L308.0 493.3 L311.0 492.7 L313.9 492.0 L316.9 491.4 L319.8 490.8 L322.7 490.2 L325.7 489.6 L328.6 489.1 L331.5 488.5 L334.4 487.9 L337.3 487.3 L340.2 486.7 L343.1 486.1 L346.0 485.5 L348.9 484.9 L351.8 484.2 L354.7 483.6 L357.6 482.9 L360.5 482.2 L363.5 481.6 L366.4 480.9 L369.3 480.2 L372.2 479.5 L375.1 478.8 L378.0 478.1 L380.9 477.4 L383.8 476.6 L386.7 475.9 L389.6 475.2 L392.5 474.4 L395.4 473.7 L398.3 472.9 L401.2 472.2 L404.1 471.4 L407.0 470.7 L409.9 469.9 L412.8 469.2 L415.7 468.4 L418.7 467.7 L421.6 466.9 L424.5 466.1 L427.4 465.4 L430.3 464.6 L433.2 463.9 L436.1 463.2 L439.0 462.4 L441.9 461.7 L444.9 460.9 L447.8 460.2 L450.7 459.5 L453.6 458.8 L456.5 458.0 L459.4 457.3 L462.3 456.6 L465.3 455.9 L468.2 455.2 L471.1 454.5 L474.0 453.8 L476.9 453.1 L479.9 452.4 L482.8 451.7 L485.7 451.0 L488.6 450.3 L491.5 449.6 L494.5 448.9 L497.4 448.2 L500.3 447.6 L503.2 446.9 L506.2 446.2 L509.1 445.5 L512.0 444.9 L514.9 444.2 L517.9 443.5 L520.8 442.9 L523.7 442.2 L526.6 441.6 L529.6 440.9 L532.5 440.2 L535.4 439.6 L538.4 438.9 L541.3 438.3 L544.2 437.6 L547.1 437.0 L550.1 436.4 L553.0 435.7 L555.9 435.1 L558.9 434.4 L561.8 433.8 L564.7 433.2 L567.7 432.5 L570.6 431.9 L573.5 431.3 L576.5 430.7 L579.4 430.0 L582.3 429.4 L585.3 428.8 L588.2 428.2 L591.1 427.5 L594.1 426.9 L597.0 426.3 L599.9 425.7 L602.9 425.1 L605.8 424.5 L608.8 423.9 L611.7 423.3 L614.6 422.7 L617.6 422.0 L620.5 421.4 L623.4 420.8 L626.4 420.2 L629.3 419.6 L632.3 419.0 L635.2 418.4 L638.1 417.8 L641.1 417.2 L644.0 416.6 L646.9 416.0 L649.9 415.4 L652.8 414.8 L655.8 414.3 L658.7 413.7 L661.6 413.1 L664.6 412.5 L667.5 411.9 L670.5 411.3 L673.4 410.7 L676.3 410.1 L679.3 409.5 L682.2 408.9 L685.2 408.3 L688.1 407.8 L691.1 407.2 L694.0 406.6 L696.9 406.0 L699.9 405.4 L702.8 404.8 L705.8 404.2 L708.7 403.7 L711.6 403.1 L714.6 402.5 L717.5 401.9 L720.5 401.3 L723.4 400.7 L726.3 400.1 L729.3 399.6 L732.2 399.0 L735.2 398.4 L738.1 397.8 L741.0 397.2 L744.0 396.6 L746.9 396.0 L749.9 395.5 L752.8 394.9 L755.7 394.3 L758.7 393.7 L761.6 393.1 L764.6 392.5 L767.5 392.0 L770.5 391.4 L773.4 390.8 L776.3 390.2 L779.3 389.6 L782.2 389.1 L785.2 388.5 L788.1 387.9 L791.1 387.3 L794.0 386.8 L796.9 386.2 L799.9 385.6 L802.8 385.1 L805.8 384.5 L808.7 383.9 L811.7 383.4 L814.6 382.8 L817.6 382.2 L820.5 381.7 L823.5 381.1 L826.4 380.6 L829.4 380.0 L832.3 379.5 L835.3 378.9 L838.2 378.4 L841.2 377.8 L844.1 377.3 L847.1 376.8 L850.0 376.2 L853.0 375.7 L855.9 375.2 L858.9 374.7 L861.9 374.1 L864.8 373.6 L867.8 373.1 L870.7 372.6 L873.7 372.1 L876.7 371.6 L879.6 371.1 L882.6 370.6 L885.6 370.1 L888.5 369.6 L891.5 369.1 L894.5 368.7 L897.4 368.2 L900.4 367.7 L903.4 367.2 L906.3 366.8 L909.3 366.3 L912.3 365.8 L915.3 365.4 L918.2 364.9 L921.2 364.5 L924.2 364.0 L927.2 363.5 L930.1 363.1 L933.1 362.6 L936.1 362.1 L939.0 361.6 L942.0 361.1 L945.0 360.6 L947.9 360.1 L950.9 359.6 L953.8 359.1 L956.8 358.6 L959.8 358.0 L962.7 357.4 L965.6 356.9 L968.6 356.3 L971.5 355.7 L974.4 355.1 L977.4 354.4 L980.3 353.8 L983.2 353.1 L986.1 352.4 L989.0 351.7 L991.9 351.0 L994.8 350.2 L997.7 349.4 L1000.6 348.6 L1003.4 347.8 L1006.3 347.0 L1009.2 346.1 L1012.0 345.2 L1014.9 344.3 L1017.7 343.4 L1020.6 342.4 L1023.4 341.5 L1026.2 340.5 L1029.1 339.6 L1031.9 338.6 L1034.8 337.6 L1037.6 336.7 L1040.5 335.7 L1043.3 334.8 L1046.2 333.8 L1049.0 332.9 L1051.9 332.0 L1054.8 331.1 L1057.7 330.2 L1060.6 329.4 L1063.5 328.6 L1066.4 327.8 L1069.4 327.0 L1072.3 326.3 L1075.3 325.6 L1078.2 325.0 L1081.2 324.5 L1084.2 324.1 L1087.1 323.8 L1090.1 323.6 L1093.0 323.6 L1095.9 323.7 L1098.8 324.0 L1101.7 324.4 L1104.6 325.0 L1107.4 325.8 L1110.2 326.8 L1112.9 327.9 L1115.6 329.2 L1118.3 330.6 L1120.8 332.1 L1123.4 333.7 L1125.9 335.4 L1128.4 337.2 L1130.8 339.0 L1133.2 341.0 L1135.6 342.9 L1137.9 345.0 L1140.3 347.0 L1142.6 349.0 L1144.8 351.1 L1147.1 353.1 L1149.4 355.1 L1151.6 357.1 L1153.9 359.1 L1156.2 361.0 L1158.5 362.9 L1160.8 364.8 L1163.2 366.5 L1165.6 368.2 L1168.1 369.8 L1170.6 371.4 L1173.2 372.8 L1175.9 374.2 L1178.6 375.4 L1181.3 376.6 L1184.1 377.7 L1186.9 378.7 L1189.7 379.6 L1192.6 380.5 L1195.5 381.2 L1198.4 381.9 L1201.4 382.5 L1204.3 383.0 L1207.3 383.4 L1210.2 383.8 L1213.2 384.1 L1216.2 384.3 L1219.2 384.5 L1222.2 384.6 L1225.2 384.7 L1228.2 384.7 L1231.2 384.7 L1234.3 384.6 L1237.3 384.6 L1240.3 384.5 L1243.3 384.3 L1246.4 384.2 L1249.4 384.0 L1252.4 383.9 L1255.4 383.7 L1258.4 383.5 L1261.4 383.4 L1264.4 383.2 L1267.4 383.0 L1270.4 382.9 L1273.4 382.7 L1276.4 382.5 L1279.4 382.4 L1282.3 382.2 L1285.3 382.1 L1288.3 381.9 L1291.3 381.7 L1294.3 381.6 L1297.2 381.4 L1300.2 381.2 L1303.2 381.0 L1306.2 380.8 L1309.2 380.6 L1312.1 380.4 L1315.1 380.2 L1318.1 380.0 L1321.1 379.8 L1324.1 379.6 L1327.1 379.4 L1330.1 379.1 L1333.1 378.9 L1336.0 378.7 L1339.0 378.4 L1342.0 378.2 L1345.0 378.0 L1348.0 377.7 L1351.0 377.5 L1354.0 377.2 L1357.0 376.9 L1360.0 376.7 L1363.0 376.4 L1366.0 376.1 L1369.0 375.9 L1372.0 375.6 L1375.0 375.3 L1378.0 375.0 L1381.0 374.7 L1384.0 374.5 L1386.9 374.2 L1389.9 373.9 L1392.9 373.6 L1395.9 373.3 L1398.9 373.0 L1401.9 372.7 L1404.9 372.4 L1407.9 372.1 L1410.9 371.8 L1413.9 371.4 L1416.9 371.1 L1419.9 370.8 L1422.8 370.5 L1425.8 370.2 L1428.8 369.8 L1431.8 369.5 L1434.8 369.2 L1437.8 368.9 L1440.8 368.5 L1443.7 368.2 L1446.7 367.9 L1449.7 367.6 L1452.7 367.2 L1455.7 366.9 L1458.6 366.5 L1461.6 366.2 L1464.6 365.9 L1467.6 365.5 L1470.5 365.2 L1473.5 364.8 L1476.5 364.5 L1479.5 364.1 L1482.4 363.8 L1485.4 363.4 L1488.4 363.1 L1491.3 362.7 L1494.3 362.3 L1497.3 362.0 L1500.3 361.6 L1503.2 361.2 L1506.2 360.9 L1509.2 360.5 L1512.2 360.1 L1515.1 359.7 L1518.1 359.3 L1521.1 359.0 L1524.0 358.6 L1527.0 358.2 L1530.0 357.8 L1533.0 357.4 L1535.9 357.0 L1538.9 356.6 L1541.9 356.2 L1544.9 355.8 L1547.9 355.4 L1550.8 355.0 L1553.8 354.6 L1556.8 354.2 L1559.8 353.8 L1562.8 353.4 L1565.7 353.0 L1568.7 352.7 L1571.7 352.3 L1574.7 352.0 L1577.7 351.7 L1580.7 351.4 L1583.6 351.1 L1586.6 350.8 L1589.6 350.6 L1592.6 350.4 L1595.6 350.2 L1598.6 350.1 L1601.6 349.9 L1604.6 349.9 L1607.6 349.8 L1610.6 349.8 L1613.6 349.8 L1616.6 349.9 L1619.6 349.9 L1622.6 350.0 L1625.6 350.1 L1628.6 350.2 L1631.6 350.3 L1634.6 350.4 L1637.6 350.5 L1640.6 350.6 L1643.6 350.7 L1646.6 350.8 L1649.6 350.8 L1652.6 350.9 L1655.6 350.9 L1658.6 350.9 L1661.6 350.9 L1664.6 350.9 L1667.6 350.9 L1670.5 350.8 L1673.5 350.8 L1676.5 350.7 L1679.5 350.6 L1682.5 350.5 L1685.5 350.4 L1688.5 350.3 L1691.5 350.2 L1694.5 350.1 L1697.5 349.9 L1700.5 349.8 L1703.5 349.6 L1706.5 349.5 L1709.5 349.3 L1712.5 349.1 L1715.5 348.9 L1718.5 348.8 L1721.5 348.6 L1724.5 348.4 L1727.4 348.2 L1730.4 347.9 L1733.4 347.7 L1736.4 347.5 L1739.4 347.3 L1742.4 347.0 L1745.4 346.8 L1748.4 346.6 L1751.4 346.3 L1754.4 346.1 L1757.4 345.8 L1760.3 345.6 L1763.3 345.3 L1766.3 345.0 L1769.3 344.8 L1772.3 344.5 L1775.3 344.2 L1778.3 344.0 L1781.3 343.7 L1784.3 343.4 L1787.3 343.1 L1790.2 342.9 L1793.2 342.6 L1796.2 342.3 L1799.2 342.0 L1802.2 341.8 L1805.2 341.5 L1808.2 341.2 L1811.2 340.9 L1814.2 340.7 L1817.1 340.4 L1820.1 340.1 L1823.1 339.8 L1826.1 339.6 L1829.1 339.3 L1832.1 339.0 L1835.1 338.8 L1838.1 338.5 L1841.1 338.3 L1844.0 338.0 L1847.0 337.8 L1850.0 337.5 L1853.0 337.3 L1856.0 337.0 L1859.0 336.8 L1862.0 336.6 L1865.0 336.4 L1868.0 336.1 L1871.0 335.9 L1874.0 335.7 L1876.9 335.5 L1879.9 335.3 L1882.9 335.2 L1885.9 335.0 L1888.9 334.8 L1891.9 334.6 L1894.9 334.5 L1895.0 334.5" stroke="#0000ff"/>
<path d="M190.1 911.9 L193.0 912.6 L195.9 913.3 L198.8 914.0 L201.7 914.8 L204.6 915.5 L207.5 916.2 L210.4 916.9 L213.3 917.6 L216.2 918.4 L219.1 919.1 L222.0 919.8 L224.9 920.6 L227.8 921.3 L230.7 922.1 L233.6 922.8 L236.5 923.6 L239.4 924.3 L242.3 925.1 L245.2 925.9 L248.1 926.6 L251.0 927.4 L253.9 928.2 L256.8 929.0 L259.7 929.8 L262.6 930.6 L265.5 931.4 L268.4 932.2 L271.3 933.0 L274.2 933.8 L277.0 934.6 L279.9 935.5 L282.8 936.3 L285.7 937.1 L288.6 938.0 L291.5 938.8 L294.3 939.7 L297.2 940.5 L300.1 941.4 L303.0 942.2 L305.9 943.1 L308.7 944.0 L311.6 944.9 L314.5 945.7 L317.3 946.6 L320.2 947.5 L323.1 948.4 L325.9 949.3 L328.8 950.2 L331.7 951.2 L334.5 952.1 L337.4 953.0 L340.2 954.0 L343.1 954.9 L345.9 955.8 L348.8 956.8 L351.6 957.7 L354.5 958.7 L357.3 959.7 L360.1 960.7 L363.0 961.6 L365.8 962.6 L368.7 963.6 L371.5 964.6 L374.3 965.6 L377.1 966.6 L380.0 967.7 L382.8 968.7 L385.6 969.7 L388.4 970.8 L391.2 971.8 L394.0 972.9 L396.9 973.9 L399.7 975.0 L402.5 976.1 L405.3 977.1 L408.1 978.2 L410.9 979.3 L413.6 980.4 L416.4 981.5 L419.2 982.6 L422.0 983.8 L424.8 984.9 L427.6 986.0 L430.3 987.2 L433.1 988.3 L435.9 989.5 L438.6 990.6 L441.4 991.8 L444.2 993.0 L446.9 994.2 L449.7 995.4 L452.4 996.6 L455.2 997.8 L457.9 999.0 L460.6 1000.2 L463.4 1001.4 L466.1 1002.7 L468.8 1003.9 L471.5 1005.2 L474.3 1006.4 L477.0 1007.7 L479.7 1009.0 L482.4 1010.3 L485.1 1011.6 L487.8 1012.9 L490.5 1014.2 L493.2 1015.5 L495.9 1016.8 L498.6 1018.2 L501.2 1019.5 L503.9 1020.9 L506.6 1022.2 L509.3 1023.6 L511.9 1025.0 L514.6 1026.3 L517.2 1027.7 L519.9 1029.1 L522.5 1030.6 L525.2 1032.0 L527.8 1033.4 L530.4 1034.8 L533.1 1036.3 L535.7 1037.7 L538.3 1039.2 L540.9 1040.7 L543.5 1042.2 L546.1 1043.7 L548.7 1045.2 L551.3 1046.7 L553.9 1048.2 L556.5 1049.8 L559.0 1051.3 L561.6 1052.9 L564.1 1054.4 L566.7 1056.0 L569.2 1057.6 L571.8 1059.2 L574.3 1060.8 L576.8 1062.4 L579.4 1064.0 L581.9 1065.7 L584.4 1067.3 L586.9 1069.0 L589.3 1070.7 L591.8 1072.4 L594.3 1074.1 L596.8 1075.8 L599.2 1077.5 L601.7 1079.2 L604.2 1080.9 L606.6 1082.7 L609.1 1084.4 L611.5 1086.1 L613.9 1087.9 L616.4 1089.6 L618.8 1091.4 L621.3 1093.1 L623.7 1094.9 L626.1 1096.6 L628.6 1098.4 L631.0 1100.1 L633.5 1101.9 L635.9 1103.6 L638.3 1105.4 L640.8 1107.1 L643.2 1108.9 L645.7 1110.6 L648.1 1112.3 L650.6 1114.0 L653.1 1115.7 L655.5 1117.4 L658.0 1119.1 L660.5 1120.8 L663.0 1122.5 L665.5 1124.2 L668.0 1125.8 L670.5 1127.5 L673.0 1129.1 L675.5 1130.7 L678.1 1132.3 L680.6 1133.9 L683.1 1135.5 L685.7 1137.1 L688.2 1138.6 L690.8 1140.2 L693.4 1141.7 L696.0 1143.2 L698.6 1144.7 L701.2 1146.2 L703.8 1147.6 L706.4 1149.1 L709.1 1150.5 L711.7 1151.9 L714.4 1153.3 L717.0 1154.7 L719.7 1156.1 L722.3 1157.4 L725.0 1158.8 L727.7 1160.2 L730.4 1161.5 L733.0 1162.9 L735.7 1164.3 L738.4 1165.6 L741.1 1167.0 L743.7 1168.4 L746.4 1169.7 L749.1 1171.1 L751.7 1172.5 L754.4 1173.9 L757.0 1175.3 L759.7 1176.8 L762.3 1178.2 L764.9 1179.6 L767.6 1181.1 L770.2 1182.6 L772.8 1184.1 L775.4 1185.6 L777.9 1187.2 L780.5 1188.7 L783.1 1190.2 L785.7 1191.7 L788.3 1193.2 L790.9 1194.7 L793.5 1196.2 L796.1 1197.6 L798.8 1199.0 L801.4 1200.4 L804.1 1201.7 L806.8 1202.9 L809.6 1204.1 L812.3 1205.3 L815.1 1206.3 L818.0 1207.4 L820.8 1208.3 L823.7 1209.1 L826.7 1209.9 L829.6 1210.6 L832.6 1211.2 L835.6 1211.7 L838.6 1212.1 L841.6 1212.4 L844.6 1212.5 L847.5 1212.2 L850.4 1211.7 L853.1 1210.8 L855.8 1209.6 L858.5 1208.1 L861.0 1206.5 L863.5 1204.7 L865.8 1202.7 L868.1 1200.6 L870.3 1198.4 L872.4 1196.2 L874.5 1194.0 L876.4 1191.7 L878.4 1189.5 L880.2 1187.1 L882.0 1184.8 L883.8 1182.4 L885.6 1180.0 L887.3 1177.6 L889.0 1175.2 L890.8 1172.8 L892.5 1170.3 L894.3 1167.9 L896.0 1165.5 L897.9 1163.1 L899.7 1160.7 L901.6 1158.3 L903.5 1156.0 L905.5 1153.8 L907.5 1151.6 L909.7 1149.4 L911.9 1147.4 L914.1 1145.4 L916.5 1143.5 L918.9 1141.8 L921.4 1140.1 L924.0 1138.5 L926.6 1137.0 L929.2 1135.6 L931.9 1134.3 L934.7 1133.1 L937.5 1132.0 L940.3 1131.0 L943.1 1130.1 L946.0 1129.3 L948.9 1128.5 L951.8 1127.7 L954.7 1126.8 L957.5 1126.0 L960.4 1125.1 L963.3 1124.2 L966.2 1123.3 L969.1 1122.5 L972.1 1121.8 L975.0 1121.2 L977.9 1120.6 L980.9 1120.2 L983.8 1119.8 L986.8 1119.5 L989.8 1119.2 L992.8 1119.0 L995.8 1118.8 L998.8 1118.7 L1001.8 1118.6 L1004.8 1118.4 L1007.8 1118.4 L1010.8 1118.3 L1013.8 1118.2 L1016.8 1118.1 L1019.8 1118.0 L1022.8 1118.0 L1025.8 1117.9 L1028.8 1117.8 L1031.8 1117.8 L1034.8 1117.7 L1037.8 1117.7 L1040.8 1117.7 L1043.8 1117.6 L1046.8 1117.6 L1049.8 1117.6 L1052.8 1117.6 L1055.8 1117.6 L1058.8 1117.6 L1061.8 1117.6 L1064.8 1117.6 L1067.8 1117.6 L1070.8 1117.6 L1073.8 1117.6 L1076.8 1117.7 L1079.8 1117.7 L1082.8 1117.7 L1085.8 1117.8 L1088.8 1117.8 L1091.8 1117.9 L1094.8 1117.9 L1097.8 1118.0 L1100.8 1118.0 L1103.8 1118.1 L1106.8 1118.2 L1109.8 1118.2 L1112.8 1118.3 L1115.8 1118.4 L1118.8 1118.5 L1121.8 1118.5 L1124.8 1118.6 L1127.8 1118.7 L1130.8 1118.8 L1133.8 1118.9 L1136.7 1119.0 L1139.7 1119.1 L1142.7 1119.2 L1145.7 1119.3 L1148.7 1119.4 L1151.7 1119.5 L1154.7 1119.7 L1157.7 1119.8 L1160.7 1119.9 L1163.7 1120.0 L1166.7 1120.1 L1169.7 1120.3 L1172.7 1120.4 L1175.7 1120.5 L1178.7 1120.6 L1181.7 1120.8 L1184.7 1120.9 L1187.7 1121.0 L1190.7 1121.2 L1193.7 1121.3 L1196.7 1121.4 L1199.7 1121.6 L1202.7 1121.7 L1205.7 1121.9 L1208.7 1122.0 L1211.7 1122.2 L1214.7 1122.3 L1217.7 1122.4 L1220.7 1122.6 L1223.7 1122.7 L1226.7 1122.9 L1229.7 1123.0 L1232.7 1123.2 L1235.7 1123.3 L1238.7 1123.5 L1241.7 1123.6 L1244.7 1123.7 L1247.7 1123.9 L1250.7 1124.0 L1253.7 1124.2 L1256.7 1124.3 L1259.7 1124.5 L1262.6 1124.6 L1265.6 1124.8 L1268.6 1124.9 L1271.6 1125.0 L1274.6 1125.2 L1277.6 1125.3 L1280.6 1125.4 L1283.6 1125.6 L1286.6 1125.7 L1289.6 1125.9 L1292.6 1126.0 L1295.6 1126.1 L1298.6 1126.2 L1301.6 1126.4 L1304.6 1126.5 L1307.6 1126.6 L1310.6 1126.7 L1313.6 1126.9 L1316.6 1127.0 L1319.6 1127.1 L1322.6 1127.2 L1325.6 1127.3 L1328.6 1127.4 L1331.6 1127.5 L1334.6 1127.7 L1337.6 1127.8 L1340.6 1127.9 L1343.6 1128.0 L1346.6 1128.1 L1349.6 1128.2 L1352.6 1128.3 L1355.6 1128.4 L1358.6 1128.5 L1361.6 1128.6 L1364.6 1128.7 L1367.6 1128.8 L1370.6 1128.9 L1373.6 1129.0 L1376.6 1129.1 L1379.6 1129.1 L1382.6 1129.2 L1385.5 1129.3 L1388.5 1129.4 L1391.5 1129.5 L1394.5 1129.6 L1397.5 1129.7 L1400.5 1129.8 L1403.5 1129.8 L1406.5 1129.9 L1409.5 1130.0 L1412.5 1130.1 L1415.5 1130.2 L1418.5 1130.3 L1421.5 1130.3 L1424.5 1130.4 L1427.5 1130.5 L1430.5 1130.6 L1433.5 1130.7 L1436.5 1130.7 L1439.5 1130.8 L1442.5 1130.9 L1445.5 1131.0 L1448.5 1131.0 L1451.5 1131.1 L1454.5 1131.2 L1457.5 1131.3 L1460.5 1131.4 L1463.5 1131.4 L1466.5 1131.5 L1469.5 1131.6 L1472.5 1131.7 L1475.5 1131.7 L1478.5 1131.8 L1481.5 1131.9 L1484.5 1132.0 L1487.5 1132.0 L1490.5 1132.1 L1493.5 1132.2 L1496.5 1132.3 L1499.5 1132.4 L1502.5 1132.4 L1505.5 1132.5 L1508.5 1132.6 L1511.5 1132.7 L1514.5 1132.8 L1517.5 1132.8 L1520.5 1132.9 L1523.5 1133.0 L1526.5 1133.1 L1529.5 1133.2 L1532.5 1133.2 L1535.5 1133.3 L1538.5 1133.4 L1541.5 1133.5 L1544.5 1133.6 L1547.5 1133.7 L1550.5 1133.8 L1553.5 1133.8 L1556.5 1133.9 L1559.5 1134.0 L1562.5 1134.1 L1565.5 1134.2 L1568.5 1134.3 L1571.5 1134.4 L1574.5 1134.5 L1577.5 1134.6 L1580.5 1134.7 L1583.5 1134.8 L1586.5 1134.9 L1589.5 1135.0 L1592.5 1135.1 L1595.4 1135.2 L1598.4 1135.3 L1601.4 1135.4 L1604.4 1135.5 L1607.4 1135.6 L1610.4 1135.7 L1613.4 1135.8 L1616.4 1135.9 L1619.4 1136.0 L1622.4 1136.1 L1625.4 1136.3 L1628.4 1136.4 L1631.4 1136.5 L1634.4 1136.6 L1637.4 1136.7 L1640.4 1136.8 L1643.4 1137.0 L1646.4 1137.1 L1649.4 1137.2 L1652.4 1137.3 L1655.4 1137.4 L1658.4 1137.5 L1661.4 1137.7 L1664.4 1137.8 L1667.4 1137.9 L1670.4 1138.0 L1673.4 1138.2 L1676.4 1138.3 L1679.4 1138.4 L1682.4 1138.5 L1685.4 1138.6 L1688.4 1138.8 L1691.4 1138.9 L1694.4 1139.0 L1697.4 1139.1 L1700.4 1139.2 L1703.4 1139.4 L1706.4 1139.5 L1709.4 1139.6 L1712.4 1139.7 L1715.4 1139.8 L1718.4 1140.0 L1721.4 1140.1 L1724.4 1140.2 L1727.4 1140.3 L1730.4 1140.4 L1733.4 1140.6 L1736.4 1140.7 L1739.4 1140.8 L1742.4 1140.9 L1745.4 1141.0 L1748.4 1141.1 L1751.4 1141.2 L1754.4 1141.4 L1757.4 1141.5 L1760.4 1141.6 L1763.4 1141.7 L1766.4 1141.8 L1769.4 1141.9 L1772.4 1142.0 L1775.4 1142.1 L1778.4 1142.2 L1781.4 1142.3 L1784.4 1142.4 L1787.4 1142.5 L1790.4 1142.6 L1793.4 1142.7 L1796.4 1142.8 L1799.3 1142.9 L1802.3 1143.0 L1805.3 1143.1 L1808.3 1143.2 L1811.3 1143.3 L1814.3 1143.3 L1817.3 1143.4 L1820.3 1143.5 L1823.3 1143.6 L1826.3 1143.7 L1829.3 1143.7 L1832.3 1143.8 L1835.3 1143.9 L1838.3 1144.0 L1841.3 1144.0 L1844.3 1144.1 L1847.3 1144.2 L1850.3 1144.2 L1853.3 1144.3 L1856.2 1144.3 L1859.2 1144.4 L1862.2 1144.5 L1865.2 1144.5 L1868.2 1144.5 L1871.2 1144.3 L1874.1 1143.8 L1877.0 1143.0 L1879.9 1142.2 L1882.9 1141.7 L1885.9 1141.6 L1888.9 1141.8 L1891.9 1141.9 L1894.9 1141.8 L1895.0 1141.8" stroke="#0000ff"/>
<path d="M195.6 808.1 L195.7 805.1 L195.9 802.1 L196.1 799.0 L196.3 796.0 L196.4 793.0 L196.6 790.0 L196.8 786.9 L197.0 783.9 L197.2 780.9 L197.3 777.9 L197.5 774.9 L197.7 771.9 L197.9 768.9 L198.1 765.9 L198.3 762.9 L198.5 759.9 L198.7 756.9 L198.9 753.9 L199.1 750.9 L199.3 747.9 L199.5 744.9 L199.7 741.9 L199.9 738.9 L200.1 735.9 L200.3 732.9 L200.5 730.0 L200.7 727.0 L200.9 724.0 L201.1 721.0 L201.3 718.0 L201.5 715.0 L201.8 712.1 L202.0 709.1 L202.2 706.1 L202.4 703.1 L202.6 700.1 L202.8 697.2 L203.0 694.2 L203.3 691.2 L203.5 688.2 L203.7 685.3 L203.9 682.3 L204.1 679.3 L204.4 676.3 L204.6 673.3 L204.8 670.4 L205.0 667.4 L205.2 664.4 L205.5 661.4 L205.7 658.4 L205.9 655.5 L206.1 652.5 L206.4 649.5 L206.6 646.5 L206.8 643.5 L207.0 640.5 L207.3 637.5 L207.5 634.5 L207.7 631.6 L207.9 628.6 L208.1 625.6 L208.4 622.6 L208.6 619.6 L208.8 616.6 L209.0 613.6 L209.3 610.6 L209.5 607.6 L209.7 604.6 L210.0 601.6 L210.2 598.6 L210.5 595.6 L210.7 592.6 L211.0 589.6 L211.3 586.6 L211.6 583.6 L211.9 580.6 L212.2 577.6 L212.5 574.6 L212.8 571.6 L213.2 568.6 L213.6 565.6 L214.0 562.6 L214.4 559.7 L214.8 556.7 L215.2 553.7 L215.7 550.8 L216.2 547.8 L216.7 544.9 L217.2 541.9 L217.8 539.0 L218.4 536.0 L219.0 533.1 L219.6 530.2 L220.3 527.3 L221.0 524.3 L221.7 521.4 L222.4 518.5 L223.2 515.7 L224.0 512.8 L224.9 509.9 L225.8 507.0 L226.7 504.2 L227.6 501.3 L228.6 498.5 L229.7 495.7 L230.7 492.9 L231.8 490.1 L233.0 487.3 L234.2 484.5 L235.5 481.8 L236.9 479.1 L238.3 476.5 L239.9 474.0 L241.5 471.5 L243.3 469.1 L245.1 466.8 L247.1 464.6 L249.2 462.5 L251.4 460.5 L253.7 458.6 L256.1 456.8 L258.5 455.0 L261.1 453.4 L263.7 451.9 L266.4 450.4 L269.1 449.0 L271.8 447.7 L274.6 446.5 L277.5 445.4 L280.3 444.3 L283.2 443.3 L286.1 442.4 L289.0 441.6 L291.9 440.7 L294.8 440.0 L297.7 439.3 L300.6 438.6 L303.5 437.9 L306.5 437.3 L309.4 436.7 L312.4 436.2 L315.3 435.6 L318.3 435.1 L321.2 434.5 L324.1 434.0 L327.1 433.4 L330.0 432.9 L333.0 432.3 L335.9 431.7 L338.8 431.1 L341.7 430.5 L344.7 429.8 L347.6 429.1 L350.4 428.3 L353.3 427.6 L356.2 426.8 L359.1 425.9 L362.0 425.1 L364.8 424.2 L367.7 423.3 L370.5 422.4 L373.4 421.5 L376.2 420.6 L379.1 419.7 L382.0 418.7 L384.8 417.8 L387.7 416.9 L390.5 416.0 L393.4 415.1 L396.2 414.2 L399.1 413.3 L402.0 412.4 L404.8 411.5 L407.7 410.6 L410.6 409.8 L413.5 408.9 L416.3 408.1 L419.2 407.2 L422.1 406.4 L425.0 405.5 L427.8 404.7 L430.7 403.9 L433.6 403.1 L436.5 402.2 L439.4 401.4 L442.3 400.6 L445.2 399.8 L448.1 399.0 L450.9 398.2 L453.8 397.5 L456.7 396.7 L459.6 395.9 L462.5 395.1 L465.4 394.4 L468.3 393.6 L471.2 392.8 L474.1 392.1 L477.0 391.3 L480.0 390.6 L482.9 389.9 L485.8 389.1 L488.7 388.4 L491.6 387.7 L494.5 386.9 L497.4 386.2 L500.3 385.5 L503.2 384.8 L506.2 384.1 L509.1 383.4 L512.0 382.7 L514.9 382.0 L517.8 381.3 L520.8 380.6 L523.7 379.9 L526.6 379.2 L529.5 378.6 L532.5 377.9 L535.4 377.2 L538.3 376.5 L541.2 375.9 L544.2 375.2 L547.1 374.5 L550.0 373.9 L552.9 373.2 L555.9 372.5 L558.8 371.9 L561.7 371.2 L564.7 370.6 L567.6 369.9 L570.5 369.3 L573.5 368.7 L576.4 368.0 L579.3 367.4 L582.3 366.7 L585.2 366.1 L588.1 365.5 L591.1 364.8 L594.0 364.2 L596.9 363.6 L599.9 363.0 L602.8 362.3 L605.7 361.7 L608.7 361.1 L611.6 360.5 L614.6 359.8 L617.5 359.2 L620.4 358.6 L623.4 358.0 L626.3 357.4 L629.2 356.8 L632.2 356.1 L635.1 355.5 L638.1 354.9 L641.0 354.3 L643.9 353.7 L646.9 353.1 L649.8 352.4 L652.7 351.8 L655.7 351.2 L658.6 350.6 L661.5 350.0 L664.5 349.4 L667.4 348.8 L670.4 348.2 L673.3 347.5 L676.2 346.9 L679.2 346.3 L682.1 345.7 L685.0 345.1 L688.0 344.5 L690.9 343.9 L693.8 343.2 L696.7 342.6 L699.7 342.0 L702.6 341.4 L705.5 340.8 L708.5 340.1 L711.4 339.5 L714.3 338.9 L717.2 338.3 L720.2 337.6 L723.1 337.0 L726.0 336.4 L729.0 335.8 L731.9 335.1 L734.8 334.5 L737.7 333.9 L740.7 333.3 L743.6 332.6 L746.5 332.0 L749.4 331.4 L752.4 330.8 L755.3 330.1 L758.2 329.5 L761.2 328.9 L764.1 328.3 L767.0 327.7 L769.9 327.0 L772.9 326.4 L775.8 325.8 L778.7 325.2 L781.7 324.6 L784.6 324.0 L787.5 323.4 L790.5 322.7 L793.4 322.1 L796.4 321.5 L799.3 320.9 L802.2 320.3 L805.2 319.7 L808.1 319.2 L811.1 318.6 L814.0 318.0 L816.9 317.4 L819.9 316.8 L822.8 316.2 L825.8 315.6 L828.7 315.1 L831.7 314.5 L834.7 313.9 L837.6 313.4 L840.6 312.8 L843.5 312.3 L846.5 311.7 L849.5 311.1 L852.4 310.6 L855.4 310.1 L858.4 309.5 L861.3 309.0 L864.3 308.5 L867.3 307.9 L870.3 307.4 L873.2 306.9 L876.2 306.4 L879.2 305.9 L882.2 305.4 L885.2 304.9 L888.2 304.3 L891.1 303.8 L894.1 303.3 L897.1 302.8 L900.1 302.3 L903.1 301.8 L906.1 301.2 L909.0 300.7 L912.0 300.2 L915.0 299.6 L917.9 299.1 L920.9 298.5 L923.9 297.9 L926.8 297.4 L929.8 296.8 L932.7 296.2 L935.6 295.6 L938.6 294.9 L941.5 294.3 L944.4 293.7 L947.3 293.0 L950.2 292.3 L953.1 291.6 L956.0 290.9 L958.9 290.2 L961.8 289.4 L964.7 288.7 L967.5 287.9 L970.4 287.1 L973.2 286.3 L976.1 285.5 L978.9 284.6 L981.8 283.8 L984.6 283.0 L987.5 282.1 L990.3 281.2 L993.1 280.4 L996.0 279.5 L998.8 278.6 L1001.6 277.7 L1004.5 276.8 L1007.3 275.9 L1010.1 275.0 L1013.0 274.1 L1015.8 273.1 L1018.7 272.2 L1021.5 271.3 L1024.4 270.4 L1027.2 269.4 L1030.1 268.5 L1033.0 267.6 L1035.8 266.7 L1038.7 265.7 L1041.6 264.8 L1044.5 263.9 L1047.4 263.0 L1050.3 262.1 L1053.2 261.2 L1056.2 260.3 L1059.1 259.5 L1062.0 258.7 L1065.0 258.0 L1067.9 257.3 L1070.9 256.7 L1073.8 256.2 L1076.8 255.8 L1079.8 255.5 L1082.7 255.3 L1085.7 255.2 L1088.6 255.2 L1091.6 255.4 L1094.5 255.7 L1097.4 256.2 L1100.3 256.8 L1103.2 257.5 L1106.1 258.3 L1108.9 259.3 L1111.6 260.4 L1114.3 261.7 L1117.0 263.1 L1119.5 264.5 L1122.1 266.1 L1124.5 267.8 L1127.0 269.6 L1129.4 271.4 L1131.7 273.3 L1134.0 275.3 L1136.3 277.3 L1138.5 279.4 L1140.8 281.5 L1142.9 283.6 L1145.1 285.7 L1147.3 287.9 L1149.4 290.0 L1151.6 292.2 L1153.7 294.3 L1155.9 296.4 L1158.1 298.5 L1160.4 300.5 L1162.7 302.5 L1165.0 304.4 L1167.4 306.2 L1169.8 308.0 L1172.2 309.7 L1174.7 311.3 L1177.2 312.9 L1179.8 314.3 L1182.4 315.6 L1185.1 316.8 L1187.8 317.9 L1190.6 318.8 L1193.4 319.7 L1196.3 320.4 L1199.2 321.1 L1202.1 321.6 L1205.1 322.1 L1208.1 322.5 L1211.1 322.8 L1214.1 323.1 L1217.1 323.3 L1220.2 323.4 L1223.2 323.5 L1226.3 323.6 L1229.3 323.6 L1232.4 323.6 L1235.4 323.5 L1238.4 323.5 L1241.4 323.4 L1244.4 323.3 L1247.5 323.2 L1250.4 323.0 L1253.4 322.9 L1256.4 322.7 L1259.4 322.6 L1262.4 322.4 L1265.4 322.2 L1268.3 322.0 L1271.3 321.8 L1274.3 321.6 L1277.3 321.4 L1280.3 321.2 L1283.2 321.0 L1286.2 320.8 L1289.2 320.6 L1292.2 320.3 L1295.2 320.1 L1298.1 319.9 L1301.1 319.7 L1304.1 319.5 L1307.1 319.3 L1310.1 319.1 L1313.1 318.9 L1316.1 318.7 L1319.1 318.5 L1322.1 318.3 L1325.1 318.1 L1328.0 317.8 L1331.0 317.6 L1334.0 317.4 L1337.0 317.2 L1340.0 316.9 L1343.0 316.7 L1346.0 316.5 L1349.0 316.2 L1352.0 316.0 L1355.0 315.7 L1358.0 315.5 L1361.0 315.2 L1364.0 315.0 L1367.0 314.7 L1370.0 314.4 L1372.9 314.1 L1375.9 313.9 L1378.9 313.6 L1381.9 313.3 L1384.9 313.0 L1387.9 312.7 L1390.9 312.4 L1393.9 312.0 L1396.9 311.7 L1399.8 311.4 L1402.8 311.0 L1405.8 310.7 L1408.8 310.3 L1411.8 310.0 L1414.8 309.6 L1417.7 309.2 L1420.7 308.8 L1423.7 308.4 L1426.7 308.1 L1429.6 307.7 L1432.6 307.3 L1435.6 306.8 L1438.6 306.4 L1441.5 306.0 L1444.5 305.6 L1447.5 305.2 L1450.5 304.8 L1453.4 304.3 L1456.4 303.9 L1459.4 303.5 L1462.3 303.0 L1465.3 302.6 L1468.3 302.2 L1471.2 301.7 L1474.2 301.3 L1477.2 300.9 L1480.1 300.4 L1483.1 300.0 L1486.1 299.6 L1489.1 299.1 L1492.0 298.7 L1495.0 298.3 L1498.0 297.8 L1500.9 297.4 L1503.9 297.0 L1506.9 296.5 L1509.8 296.1 L1512.8 295.7 L1515.8 295.3 L1518.7 294.9 L1521.7 294.5 L1524.7 294.1 L1527.7 293.7 L1530.6 293.3 L1533.6 292.9 L1536.6 292.5 L1539.5 292.1 L1542.5 291.8 L1545.5 291.4 L1548.5 291.1 L1551.4 290.7 L1554.4 290.4 L1557.4 290.0 L1560.4 289.7 L1563.4 289.4 L1566.3 289.1 L1569.3 288.8 L1572.3 288.5 L1575.3 288.2 L1578.3 287.9 L1581.3 287.6 L1584.3 287.4 L1587.2 287.1 L1590.2 286.9 L1593.2 286.7 L1596.2 286.5 L1599.2 286.3 L1602.2 286.1 L1605.2 286.0 L1608.2 285.9 L1611.2 285.8 L1614.2 285.7 L1617.2 285.6 L1620.2 285.6 L1623.2 285.6 L1626.2 285.7 L1629.2 285.7 L1632.2 285.8 L1635.2 285.9 L1638.2 286.1 L1641.2 286.2 L1644.2 286.3 L1647.2 286.4 L1650.2 286.5 L1653.2 286.6 L1656.2 286.7 L1659.2 286.7 L1662.2 286.7 L1665.2 286.8 L1668.2 286.8 L1671.2 286.7 L1674.2 286.7 L1677.2 286.7 L1680.2 286.6 L1683.2 286.5 L1686.2 286.5 L1689.2 286.4 L1692.2 286.3 L1695.2 286.1 L1698.1 286.0 L1701.1 285.9 L1704.1 285.7 L1707.1 285.6 L1710.1 285.4 L1713.1 285.2 L1716.1 285.0 L1719.1 284.8 L1722.1 284.6 L1725.1 284.4 L1728.1 284.2 L1731.1 284.0 L1734.1 283.7 L1737.0 283.5 L1740.0 283.3 L1743.0 283.0 L1746.0 282.8 L1749.0 282.5 L1752.0 282.2 L1755.0 281.9 L1758.0 281.7 L1761.0 281.4 L1763.9 281.1 L1766.9 280.8 L1769.9 280.5 L1772.9 280.2 L1775.9 279.9 L1778.9 279.6 L1781.9 279.3 L1784.9 279.0 L1787.8 278.7 L1790.8 278.4 L1793.8 278.1 L1796.8 277.8 L1799.8 277.5 L1802.8 277.2 L1805.8 276.9 L1808.7 276.6 L1811.7 276.3 L1814.7 275.9 L1817.7 275.6 L1820.7 275.3 L1823.7 275.1 L1826.7 274.8 L1829.7 274.5 L1832.6 274.2 L1835.6 273.9 L1838.6 273.6 L1841.6 273.3 L1844.6 273.1 L1847.6 272.8 L1850.6 272.5 L1853.6 272.3 L1856.5 272.0 L1859.5 271.8 L1862.5 271.5 L1865.5 271.3 L1868.5 271.1 L1871.5 270.9 L1874.5 270.7 L1877.5 270.5 L1880.5 270.3 L1883.5 270.1 L1886.5 269.9 L1889.4 269.8 L1892.4 269.6 L1895.0 269.5" stroke="#ff00ff"/>
<path d="M190.1 960.6 L192.9 961.4 L195.8 962.1 L198.7 962.9 L201.6 963.7 L204.5 964.5 L207.3 965.3 L210.2 966.1 L213.1 966.9 L216.0 967.7 L218.9 968.5 L221.8 969.3 L224.6 970.2 L227.5 971.0 L230.4 971.8 L233.3 972.6 L236.1 973.5 L239.0 974.3 L241.9 975.2 L244.8 976.0 L247.6 976.9 L250.5 977.7 L253.4 978.6 L256.3 979.4 L259.1 980.3 L262.0 981.2 L264.9 982.1 L267.7 983.0 L270.6 983.9 L273.5 984.7 L276.3 985.6 L279.2 986.6 L282.1 987.5 L284.9 988.4 L287.8 989.3 L290.6 990.2 L293.5 991.2 L296.4 992.1 L299.2 993.0 L302.1 994.0 L304.9 994.9 L307.8 995.9 L310.6 996.9 L313.4 997.8 L316.3 998.8 L319.1 999.8 L322.0 1000.8 L324.8 1001.8 L327.6 1002.8 L330.5 1003.8 L333.3 1004.8 L336.1 1005.8 L339.0 1006.8 L341.8 1007.8 L344.6 1008.9 L347.4 1009.9 L350.2 1010.9 L353.1 1012.0 L355.9 1013.1 L358.7 1014.1 L361.5 1015.2 L364.3 1016.3 L367.1 1017.3 L369.9 1018.4 L372.7 1019.5 L375.5 1020.6 L378.3 1021.7 L381.1 1022.8 L383.9 1024.0 L386.6 1025.1 L389.4 1026.2 L392.2 1027.4 L395.0 1028.5 L397.7 1029.7 L400.5 1030.8 L403.3 1032.0 L406.0 1033.2 L408.8 1034.4 L411.5 1035.5 L414.3 1036.7 L417.0 1037.9 L419.8 1039.2 L422.5 1040.4 L425.3 1041.6 L428.0 1042.8 L430.7 1044.1 L433.5 1045.3 L436.2 1046.6 L438.9 1047.8 L441.6 1049.1 L444.3 1050.4 L447.1 1051.7 L449.8 1053.0 L452.5 1054.3 L455.2 1055.6 L457.9 1056.9 L460.5 1058.2 L463.2 1059.5 L465.9 1060.9 L468.6 1062.2 L471.3 1063.6 L473.9 1064.9 L476.6 1066.3 L479.3 1067.7 L481.9 1069.1 L484.6 1070.5 L487.2 1071.9 L489.8 1073.3 L492.5 1074.7 L495.1 1076.1 L497.7 1077.6 L500.4 1079.0 L503.0 1080.5 L505.6 1082.0 L508.2 1083.4 L510.8 1084.9 L513.4 1086.4 L516.0 1087.9 L518.6 1089.4 L521.2 1090.9 L523.8 1092.4 L526.3 1094.0 L528.9 1095.5 L531.5 1097.1 L534.0 1098.6 L536.6 1100.2 L539.1 1101.8 L541.7 1103.3 L544.2 1104.9 L546.8 1106.5 L549.3 1108.1 L551.8 1109.8 L554.3 1111.4 L556.8 1113.0 L559.4 1114.7 L561.9 1116.3 L564.4 1118.0 L566.8 1119.7 L569.3 1121.3 L571.8 1123.0 L574.3 1124.7 L576.7 1126.4 L579.2 1128.1 L581.7 1129.9 L584.1 1131.6 L586.6 1133.3 L589.0 1135.1 L591.4 1136.8 L593.9 1138.6 L596.3 1140.4 L598.7 1142.2 L601.1 1144.0 L603.5 1145.8 L605.9 1147.6 L608.3 1149.4 L610.7 1151.2 L613.1 1153.1 L615.4 1154.9 L617.8 1156.8 L620.2 1158.6 L622.5 1160.5 L624.9 1162.4 L627.2 1164.3 L629.5 1166.1 L631.9 1168.0 L634.2 1169.9 L636.6 1171.8 L638.9 1173.7 L641.2 1175.6 L643.6 1177.5 L645.9 1179.4 L648.3 1181.2 L650.6 1183.1 L653.0 1185.0 L655.3 1186.8 L657.7 1188.7 L660.1 1190.5 L662.4 1192.3 L664.8 1194.1 L667.2 1195.9 L669.6 1197.7 L672.1 1199.4 L674.5 1201.2 L676.9 1202.9 L679.4 1204.6 L681.9 1206.3 L684.4 1207.9 L686.9 1209.5 L689.4 1211.1 L691.9 1212.7 L694.5 1214.2 L697.1 1215.8 L699.7 1217.2 L702.3 1218.7 L704.9 1220.1 L707.6 1221.5 L710.3 1222.9 L712.9 1224.2 L715.6 1225.6 L718.3 1226.9 L721.0 1228.3 L723.7 1229.6 L726.4 1230.9 L729.1 1232.3 L731.8 1233.7 L734.5 1235.1 L737.1 1236.5 L739.8 1238.0 L742.4 1239.5 L745.0 1241.0 L747.6 1242.5 L750.2 1244.1 L752.8 1245.6 L755.3 1247.2 L757.9 1248.8 L760.4 1250.4 L763.0 1252.0 L765.5 1253.6 L768.0 1255.3 L770.6 1256.9 L773.1 1258.5 L775.6 1260.2 L778.1 1261.8 L780.6 1263.4 L783.1 1265.0 L785.6 1266.6 L788.1 1268.2 L790.6 1269.8 L793.2 1271.3 L795.7 1272.9 L798.3 1274.4 L800.8 1275.9 L803.4 1277.4 L806.0 1278.8 L808.6 1280.2 L811.3 1281.6 L813.9 1283.0 L816.6 1284.3 L819.3 1285.6 L822.0 1286.9 L824.8 1288.1 L827.6 1289.3 L830.4 1290.4 L833.2 1291.5 L836.1 1292.6 L839.0 1293.6 L842.0 1294.5 L845.0 1295.4 L848.0 1296.1 L851.0 1296.8 L853.9 1297.3 L856.9 1297.7 L859.9 1298.0 L862.8 1298.1 L865.7 1297.9 L868.6 1297.6 L871.4 1297.1 L874.1 1296.3 L876.8 1295.3 L879.4 1294.1 L882.0 1292.6 L884.4 1290.9 L886.8 1289.1 L889.2 1287.1 L891.5 1285.0 L893.7 1282.7 L895.8 1280.5 L897.9 1278.1 L899.9 1275.7 L901.9 1273.3 L903.8 1271.0 L905.7 1268.6 L907.5 1266.2 L909.3 1263.8 L911.1 1261.5 L912.8 1259.1 L914.5 1256.7 L916.2 1254.3 L917.9 1251.9 L919.6 1249.5 L921.3 1247.1 L923.0 1244.7 L924.7 1242.3 L926.5 1239.8 L928.2 1237.4 L930.0 1234.9 L931.8 1232.5 L933.7 1230.1 L935.6 1227.7 L937.5 1225.3 L939.5 1223.0 L941.5 1220.7 L943.5 1218.5 L945.6 1216.3 L947.8 1214.2 L950.0 1212.1 L952.3 1210.1 L954.6 1208.3 L957.0 1206.5 L959.4 1204.8 L961.9 1203.2 L964.5 1201.7 L967.1 1200.3 L969.8 1199.0 L972.5 1197.8 L975.3 1196.7 L978.1 1195.6 L980.9 1194.7 L983.8 1193.9 L986.7 1193.1 L989.6 1192.5 L992.5 1191.9 L995.5 1191.4 L998.4 1191.0 L1001.4 1190.6 L1004.3 1190.3 L1007.3 1190.0 L1010.3 1189.8 L1013.3 1189.7 L1016.3 1189.6 L1019.3 1189.5 L1022.3 1189.4 L1025.3 1189.4 L1028.4 1189.4 L1031.4 1189.5 L1034.4 1189.5 L1037.4 1189.5 L1040.4 1189.6 L1043.5 1189.6 L1046.5 1189.7 L1049.5 1189.7 L1052.5 1189.8 L1055.5 1189.8 L1058.5 1189.9 L1061.5 1189.9 L1064.5 1190.0 L1067.5 1190.0 L1070.6 1190.1 L1073.6 1190.1 L1076.6 1190.2 L1079.6 1190.2 L1082.6 1190.3 L1085.6 1190.3 L1088.6 1190.4 L1091.6 1190.5 L1094.6 1190.5 L1097.6 1190.6 L1100.6 1190.6 L1103.6 1190.7 L1106.6 1190.8 L1109.5 1190.8 L1112.5 1190.9 L1115.5 1191.0 L1118.5 1191.1 L1121.5 1191.1 L1124.5 1191.2 L1127.5 1191.3 L1130.5 1191.3 L1133.5 1191.4 L1136.5 1191.5 L1139.5 1191.6 L1142.5 1191.7 L1145.5 1191.7 L1148.5 1191.8 L1151.4 1191.9 L1154.4 1192.0 L1157.4 1192.1 L1160.4 1192.2 L1163.4 1192.3 L1166.4 1192.4 L1169.4 1192.5 L1172.4 1192.6 L1175.4 1192.6 L1178.4 1192.7 L1181.4 1192.8 L1184.4 1192.9 L1187.4 1193.1 L1190.4 1193.2 L1193.4 1193.3 L1196.4 1193.4 L1199.4 1193.5 L1202.4 1193.6 L1205.3 1193.7 L1208.3 1193.8 L1211.3 1193.9 L1214.3 1194.0 L1217.3 1194.1 L1220.3 1194.3 L1223.3 1194.4 L1226.3 1194.5 L1229.3 1194.6 L1232.3 1194.7 L1235.3 1194.8 L1238.3 1195.0 L1241.3 1195.1 L1244.3 1195.2 L1247.3 1195.3 L1250.3 1195.5 L1253.3 1195.6 L1256.3 1195.7 L1259.3 1195.8 L1262.3 1196.0 L1265.3 1196.1 L1268.3 1196.2 L1271.3 1196.3 L1274.3 1196.5 L1277.3 1196.6 L1280.3 1196.7 L1283.3 1196.9 L1286.3 1197.0 L1289.3 1197.1 L1292.3 1197.2 L1295.3 1197.4 L1298.3 1197.5 L1301.3 1197.6 L1304.3 1197.8 L1307.3 1197.9 L1310.3 1198.0 L1313.3 1198.2 L1316.3 1198.3 L1319.3 1198.4 L1322.3 1198.6 L1325.3 1198.7 L1328.3 1198.8 L1331.3 1199.0 L1334.3 1199.1 L1337.3 1199.2 L1340.3 1199.4 L1343.3 1199.5 L1346.3 1199.6 L1349.3 1199.8 L1352.3 1199.9 L1355.3 1200.0 L1358.3 1200.2 L1361.3 1200.3 L1364.3 1200.4 L1367.3 1200.6 L1370.3 1200.7 L1373.3 1200.8 L1376.3 1201.0 L1379.3 1201.1 L1382.3 1201.2 L1385.3 1201.4 L1388.3 1201.5 L1391.3 1201.6 L1394.3 1201.7 L1397.3 1201.9 L1400.3 1202.0 L1403.3 1202.1 L1406.3 1202.2 L1409.3 1202.4 L1412.3 1202.5 L1415.3 1202.6 L1418.3 1202.7 L1421.3 1202.9 L1424.3 1203.0 L1427.3 1203.1 L1430.3 1203.2 L1433.3 1203.3 L1436.3 1203.5 L1439.3 1203.6 L1442.3 1203.7 L1445.3 1203.8 L1448.3 1203.9 L1451.3 1204.1 L1454.3 1204.2 L1457.3 1204.3 L1460.3 1204.4 L1463.3 1204.5 L1466.3 1204.6 L1469.2 1204.7 L1472.2 1204.9 L1475.2 1205.0 L1478.2 1205.1 L1481.2 1205.2 L1484.2 1205.3 L1487.2 1205.4 L1490.2 1205.5 L1493.2 1205.6 L1496.2 1205.8 L1499.2 1205.9 L1502.2 1206.0 L1505.2 1206.1 L1508.2 1206.2 L1511.2 1206.3 L1514.2 1206.4 L1517.2 1206.5 L1520.2 1206.6 L1523.2 1206.7 L1526.2 1206.8 L1529.2 1207.0 L1532.2 1207.1 L1535.2 1207.2 L1538.2 1207.3 L1541.2 1207.4 L1544.2 1207.5 L1547.2 1207.6 L1550.2 1207.7 L1553.2 1207.8 L1556.2 1207.9 L1559.1 1208.0 L1562.1 1208.1 L1565.1 1208.2 L1568.1 1208.4 L1571.1 1208.5 L1574.1 1208.6 L1577.1 1208.7 L1580.1 1208.8 L1583.1 1208.9 L1586.1 1209.0 L1589.1 1209.1 L1592.1 1209.2 L1595.1 1209.3 L1598.1 1209.4 L1601.1 1209.5 L1604.1 1209.7 L1607.1 1209.8 L1610.1 1209.9 L1613.1 1210.0 L1616.1 1210.1 L1619.1 1210.2 L1622.1 1210.3 L1625.1 1210.4 L1628.1 1210.5 L1631.1 1210.7 L1634.1 1210.8 L1637.1 1210.9 L1640.1 1211.0 L1643.1 1211.1 L1646.1 1211.2 L1649.1 1211.3 L1652.0 1211.4 L1655.0 1211.6 L1658.0 1211.7 L1661.0 1211.8 L1664.0 1211.9 L1667.0 1212.0 L1670.0 1212.1 L1673.0 1212.3 L1676.0 1212.4 L1679.0 1212.5 L1682.0 1212.6 L1685.0 1212.7 L1688.0 1212.9 L1691.0 1213.0 L1694.0 1213.1 L1697.0 1213.2 L1700.0 1213.3 L1703.0 1213.4 L1706.0 1213.6 L1709.0 1213.7 L1712.0 1213.8 L1715.0 1213.9 L1718.0 1214.0 L1721.0 1214.1 L1724.0 1214.2 L1727.0 1214.4 L1730.0 1214.5 L1733.0 1214.6 L1736.0 1214.7 L1739.0 1214.8 L1742.0 1214.9 L1745.0 1215.0 L1748.0 1215.1 L1751.0 1215.2 L1754.0 1215.3 L1757.0 1215.4 L1760.0 1215.5 L1763.0 1215.6 L1766.0 1215.6 L1769.0 1215.7 L1772.0 1215.8 L1775.0 1215.9 L1778.0 1216.0 L1781.0 1216.0 L1784.0 1216.1 L1787.0 1216.2 L1790.0 1216.2 L1793.0 1216.3 L1796.0 1216.3 L1799.0 1216.4 L1802.0 1216.4 L1805.0 1216.5 L1808.0 1216.5 L1811.0 1216.6 L1814.0 1216.6 L1817.0 1216.6 L1820.0 1216.7 L1823.0 1216.7 L1826.0 1216.7 L1829.0 1216.7 L1832.0 1216.7 L1835.0 1216.7 L1838.0 1216.7 L1841.0 1216.7 L1844.0 1216.7 L1847.0 1216.7 L1850.0 1216.7 L1853.0 1216.6 L1856.0 1216.6 L1859.0 1216.6 L1862.0 1216.5 L1865.0 1216.5 L1868.0 1216.4 L1871.0 1216.4 L1874.0 1216.3 L1877.0 1216.2 L1880.0 1216.2 L1883.0 1216.1 L1886.0 1216.0 L1889.0 1215.9 L1892.0 1215.8 L1895.0 1215.7 L1895.0 1215.7" stroke="#ff00ff"/>
</g>
<g stroke="#000" stroke-width="3" fill="none" shape-rendering="crispEdges">
<line x1="1128.5" y1="227" x2="1128.5" y2="540"/>
<line x1="889.5" y1="1042" x2="889.5" y2="1340"/>
</g>
<g fill="none" stroke-width="8.5" stroke-linecap="round">
<line x1="218" y1="67" x2="346.5" y2="67" stroke="#000000"/>
<line x1="218" y1="138" x2="346.5" y2="138" stroke="#ff0000"/>
<line x1="218" y1="209" x2="346.5" y2="209" stroke="#0000ff"/>
<line x1="218" y1="280" x2="346.5" y2="280" stroke="#ff00ff"/>
</g>
<g filter="url(#bin)">
<text transform="translate(363.5 86.8) scale(1 1.032)" font-size="58.0" text-anchor="start">mEVA</text>
<text transform="translate(363.5 157.8) scale(1 1.032)" font-size="58.0" text-anchor="start">mEVA-DA1</text>
<text transform="translate(363.5 228.8) scale(1 1.032)" font-size="58.0" text-anchor="start">mEVA DA1+ZnMA10%</text>
<text transform="translate(363.5 299.8) scale(1 1.032)" font-size="58.0" text-anchor="start">mEVA ZnMA10%</text>
<text transform="translate(1502.5 249.0) scale(1 1.032)" font-size="70.3" text-anchor="start">Heating</text>
<text transform="translate(1491.0 922.5) scale(1 1.032)" font-size="70.7" text-anchor="start">Cooling</text>
<text transform="translate(197.0 1478.0) scale(1 1.032)" font-size="77.0" text-anchor="middle">-50</text>
<text transform="translate(564.2 1478.0) scale(1 1.032)" font-size="77.0" text-anchor="middle">0</text>
<text transform="translate(931.5 1478.0) scale(1 1.032)" font-size="77.0" text-anchor="middle">50</text>
<text transform="translate(1298.8 1478.0) scale(1 1.032)" font-size="77.0" text-anchor="middle">100</text>
<text transform="translate(1666.0 1478.0) scale(1 1.032)" font-size="77.0" text-anchor="middle">150</text>
<text transform="translate(1041.5 1596.0) scale(1 1.032)" font-size="89.6" text-anchor="middle">Temperature (°C)</text>
<text transform="translate(82.3 987.2) rotate(-90) scale(1 1.032)" font-size="89.6" text-anchor="start">Heat Flow (W/g)</text>
<text transform="translate(129.2 1385.0) rotate(-90) scale(1 1.032)" font-size="58.0" text-anchor="start">Endo Up</text>
</g>
</svg>
</body></html>
